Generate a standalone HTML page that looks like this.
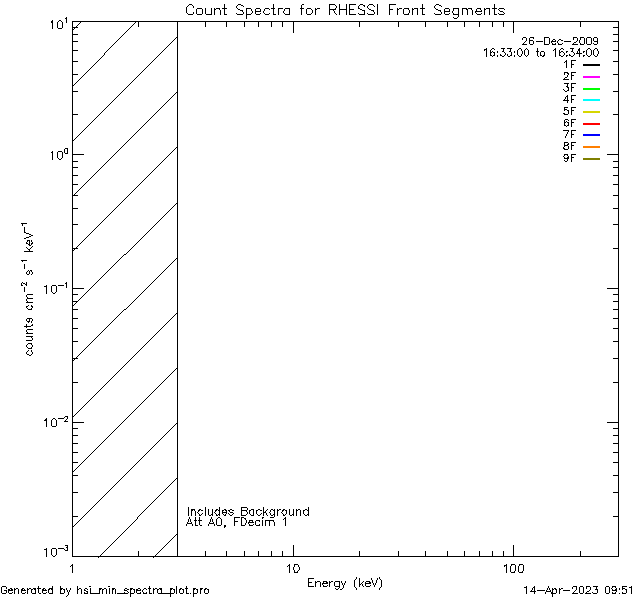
<!DOCTYPE html>
<html lang="en">
<head>
<meta charset="utf-8">
<title>Count Spectra for RHESSI Front Segments</title>
<style>
html,body{margin:0;padding:0;background:#fff;}
body{width:640px;height:600px;overflow:hidden;position:relative;font-family:"Liberation Sans",sans-serif;}
svg{display:block;position:absolute;left:0;top:0;font-family:"Liberation Sans",sans-serif;}
/* strokes are drawn as crisp 1px pixel runs (IDL Hershey vector font, no anti-aliasing);
   the <text> nodes only carry the strings and are not painted */
svg text{fill:none;stroke:none;}
</style>
</head>
<body>
<svg width="640" height="600" viewBox="0 0 640 600" shape-rendering="crispEdges" role="img" aria-label="Count Spectra for RHESSI Front Segments">
<rect width="640" height="600" fill="#fff"/>
<g id="hatch">
<path d="M81 21h1v1h-1zM136 21h1v1h-1zM80 22h1v1h-1zM135 22h1v1h-1zM79 23h1v1h-1zM134 23h1v1h-1zM78 24h1v1h-1zM133 24h1v1h-1zM77 25h1v1h-1zM132 25h1v1h-1zM76 26h1v1h-1zM131 26h1v1h-1zM75 27h1v1h-1zM130 27h1v1h-1zM74 28h1v1h-1zM129 28h1v1h-1zM73 29h1v1h-1zM128 29h1v1h-1zM72 30h1v1h-1zM127 30h1v1h-1zM126 31h1v1h-1zM125 32h1v1h-1zM124 33h1v1h-1zM123 34h1v1h-1zM122 35h1v1h-1zM121 36h1v1h-1zM177 36h1v1h-1zM120 37h1v1h-1zM176 37h1v1h-1zM119 38h1v1h-1zM175 38h1v1h-1zM118 39h1v1h-1zM174 39h1v1h-1zM117 40h1v1h-1zM173 40h1v1h-1zM116 41h1v1h-1zM172 41h1v1h-1zM115 42h1v1h-1zM171 42h1v1h-1zM114 43h1v1h-1zM170 43h1v1h-1zM113 44h1v1h-1zM169 44h1v1h-1zM112 45h1v1h-1zM168 45h1v1h-1zM111 46h1v1h-1zM167 46h1v1h-1zM110 47h1v1h-1zM166 47h1v1h-1zM109 48h1v1h-1zM165 48h1v1h-1zM108 49h1v1h-1zM164 49h1v1h-1zM107 50h1v1h-1zM163 50h1v1h-1zM106 51h1v1h-1zM162 51h1v1h-1zM105 52h1v1h-1zM161 52h1v1h-1zM104 53h1v1h-1zM160 53h1v1h-1zM104 54h1v1h-1zM159 54h1v1h-1zM103 55h1v1h-1zM158 55h1v1h-1zM102 56h1v1h-1zM157 56h1v1h-1zM101 57h1v1h-1zM156 57h1v1h-1zM100 58h1v1h-1zM155 58h1v1h-1zM99 59h1v1h-1zM154 59h1v1h-1zM98 60h1v1h-1zM153 60h1v1h-1zM97 61h1v1h-1zM152 61h1v1h-1zM96 62h1v1h-1zM151 62h1v1h-1zM95 63h1v1h-1zM150 63h1v1h-1zM94 64h1v1h-1zM149 64h1v1h-1zM93 65h1v1h-1zM148 65h1v1h-1zM92 66h1v1h-1zM147 66h1v1h-1zM91 67h1v1h-1zM146 67h1v1h-1zM90 68h1v1h-1zM145 68h1v1h-1zM89 69h1v1h-1zM144 69h1v1h-1zM88 70h1v1h-1zM143 70h1v1h-1zM87 71h1v1h-1zM142 71h1v1h-1zM86 72h1v1h-1zM141 72h1v1h-1zM85 73h1v1h-1zM140 73h1v1h-1zM84 74h1v1h-1zM139 74h1v1h-1zM83 75h1v1h-1zM138 75h1v1h-1zM82 76h1v1h-1zM137 76h1v1h-1zM81 77h1v1h-1zM136 77h1v1h-1zM80 78h1v1h-1zM135 78h1v1h-1zM79 79h1v1h-1zM134 79h1v1h-1zM78 80h1v1h-1zM133 80h1v1h-1zM77 81h1v1h-1zM132 81h1v1h-1zM76 82h1v1h-1zM131 82h1v1h-1zM75 83h1v1h-1zM130 83h1v1h-1zM74 84h1v1h-1zM129 84h1v1h-1zM73 85h1v1h-1zM128 85h1v1h-1zM72 86h1v1h-1zM127 86h1v1h-1zM126 87h1v1h-1zM125 88h1v1h-1zM124 89h1v1h-1zM123 90h1v1h-1zM122 91h1v1h-1zM177 91h1v1h-1zM121 92h1v1h-1zM176 92h1v1h-1zM120 93h1v1h-1zM175 93h1v1h-1zM119 94h1v1h-1zM174 94h1v1h-1zM118 95h1v1h-1zM173 95h1v1h-1zM117 96h1v1h-1zM172 96h1v1h-1zM116 97h1v1h-1zM171 97h1v1h-1zM115 98h1v1h-1zM170 98h1v1h-1zM114 99h1v1h-1zM169 99h1v1h-1zM113 100h1v1h-1zM168 100h1v1h-1zM112 101h1v1h-1zM167 101h1v1h-1zM111 102h1v1h-1zM166 102h1v1h-1zM110 103h1v1h-1zM165 103h1v1h-1zM109 104h1v1h-1zM164 104h1v1h-1zM108 105h1v1h-1zM163 105h1v1h-1zM107 106h1v1h-1zM162 106h1v1h-1zM106 107h1v1h-1zM161 107h1v1h-1zM105 108h1v1h-1zM160 108h1v1h-1zM104 109h1v1h-1zM159 109h1v1h-1zM103 110h1v1h-1zM158 110h1v1h-1zM102 111h1v1h-1zM157 111h1v1h-1zM101 112h1v1h-1zM156 112h1v1h-1zM100 113h1v1h-1zM155 113h1v1h-1zM99 114h1v1h-1zM154 114h1v1h-1zM98 115h1v1h-1zM153 115h1v1h-1zM97 116h1v1h-1zM152 116h1v1h-1zM96 117h1v1h-1zM151 117h1v1h-1zM95 118h1v1h-1zM150 118h1v1h-1zM94 119h1v1h-1zM149 119h1v1h-1zM93 120h1v1h-1zM148 120h1v1h-1zM92 121h1v1h-1zM147 121h1v1h-1zM91 122h1v1h-1zM146 122h1v1h-1zM90 123h1v1h-1zM145 123h1v1h-1zM89 124h1v1h-1zM144 124h1v1h-1zM88 125h1v1h-1zM143 125h1v1h-1zM87 126h1v1h-1zM142 126h1v1h-1zM86 127h1v1h-1zM141 127h1v1h-1zM85 128h1v1h-1zM140 128h1v1h-1zM84 129h1v1h-1zM139 129h1v1h-1zM83 130h1v1h-1zM138 130h1v1h-1zM82 131h1v1h-1zM137 131h1v1h-1zM81 132h1v1h-1zM136 132h1v1h-1zM80 133h1v1h-1zM135 133h1v1h-1zM79 134h1v1h-1zM134 134h1v1h-1zM78 135h1v1h-1zM133 135h1v1h-1zM77 136h1v1h-1zM132 136h1v1h-1zM76 137h1v1h-1zM131 137h1v1h-1zM75 138h1v1h-1zM130 138h1v1h-1zM74 139h1v1h-1zM129 139h1v1h-1zM73 140h1v1h-1zM128 140h1v1h-1zM72 141h1v1h-1zM127 141h1v1h-1zM126 142h1v1h-1zM125 143h1v1h-1zM124 144h1v1h-1zM123 145h1v1h-1zM122 146h1v1h-1zM177 146h1v1h-1zM121 147h1v1h-1zM176 147h1v1h-1zM120 148h1v1h-1zM175 148h1v1h-1zM119 149h1v1h-1zM174 149h1v1h-1zM118 150h1v1h-1zM173 150h1v1h-1zM117 151h1v1h-1zM172 151h1v1h-1zM116 152h1v1h-1zM171 152h1v1h-1zM115 153h1v1h-1zM170 153h1v1h-1zM114 154h1v1h-1zM169 154h1v1h-1zM113 155h1v1h-1zM168 155h1v1h-1zM112 156h1v1h-1zM167 156h1v1h-1zM111 157h1v1h-1zM166 157h1v1h-1zM110 158h1v1h-1zM165 158h1v1h-1zM109 159h1v1h-1zM164 159h1v1h-1zM108 160h1v1h-1zM163 160h1v1h-1zM107 161h1v1h-1zM162 161h1v1h-1zM106 162h1v1h-1zM161 162h1v1h-1zM105 163h1v1h-1zM160 163h1v1h-1zM104 164h1v1h-1zM159 164h1v1h-1zM103 165h1v1h-1zM158 165h1v1h-1zM102 166h1v1h-1zM157 166h1v1h-1zM101 167h1v1h-1zM156 167h1v1h-1zM100 168h1v1h-1zM155 168h1v1h-1zM99 169h1v1h-1zM154 169h1v1h-1zM98 170h1v1h-1zM153 170h1v1h-1zM97 171h1v1h-1zM152 171h1v1h-1zM96 172h1v1h-1zM151 172h1v1h-1zM95 173h1v1h-1zM150 173h1v1h-1zM94 174h1v1h-1zM149 174h1v1h-1zM93 175h1v1h-1zM148 175h1v1h-1zM92 176h1v1h-1zM147 176h1v1h-1zM91 177h1v1h-1zM146 177h1v1h-1zM90 178h1v1h-1zM145 178h1v1h-1zM89 179h1v1h-1zM144 179h1v1h-1zM88 180h1v1h-1zM143 180h1v1h-1zM87 181h1v1h-1zM142 181h1v1h-1zM86 182h1v1h-1zM141 182h1v1h-1zM85 183h1v1h-1zM140 183h1v1h-1zM84 184h1v1h-1zM139 184h1v1h-1zM83 185h1v1h-1zM138 185h1v1h-1zM82 186h1v1h-1zM137 186h1v1h-1zM81 187h1v1h-1zM136 187h1v1h-1zM80 188h1v1h-1zM135 188h1v1h-1zM79 189h1v1h-1zM134 189h1v1h-1zM78 190h1v1h-1zM133 190h1v1h-1zM77 191h1v1h-1zM132 191h1v1h-1zM76 192h1v1h-1zM131 192h1v1h-1zM75 193h1v1h-1zM130 193h1v1h-1zM74 194h1v1h-1zM129 194h1v1h-1zM73 195h1v1h-1zM128 195h1v1h-1zM72 196h1v1h-1zM127 196h1v1h-1zM126 197h1v1h-1zM125 198h1v1h-1zM124 199h1v1h-1zM123 200h1v1h-1zM122 201h1v1h-1zM121 202h1v1h-1zM177 202h1v1h-1zM120 203h1v1h-1zM176 203h1v1h-1zM119 204h1v1h-1zM175 204h1v1h-1zM118 205h1v1h-1zM174 205h1v1h-1zM117 206h1v1h-1zM173 206h1v1h-1zM116 207h1v1h-1zM172 207h1v1h-1zM115 208h1v1h-1zM171 208h1v1h-1zM114 209h1v1h-1zM170 209h1v1h-1zM113 210h1v1h-1zM169 210h1v1h-1zM112 211h1v1h-1zM168 211h1v1h-1zM111 212h1v1h-1zM167 212h1v1h-1zM110 213h1v1h-1zM166 213h1v1h-1zM109 214h1v1h-1zM165 214h1v1h-1zM108 215h1v1h-1zM164 215h1v1h-1zM107 216h1v1h-1zM163 216h1v1h-1zM106 217h1v1h-1zM162 217h1v1h-1zM105 218h1v1h-1zM161 218h1v1h-1zM104 219h1v1h-1zM160 219h1v1h-1zM103 220h1v1h-1zM159 220h1v1h-1zM102 221h1v1h-1zM158 221h1v1h-1zM101 222h1v1h-1zM157 222h1v1h-1zM100 223h1v1h-1zM156 223h1v1h-1zM99 224h1v1h-1zM155 224h1v1h-1zM98 225h1v1h-1zM154 225h1v1h-1zM97 226h1v1h-1zM153 226h1v1h-1zM96 227h1v1h-1zM152 227h1v1h-1zM95 228h1v1h-1zM151 228h1v1h-1zM94 229h1v1h-1zM150 229h1v1h-1zM93 230h1v1h-1zM149 230h1v1h-1zM92 231h1v1h-1zM148 231h1v1h-1zM91 232h1v1h-1zM147 232h1v1h-1zM90 233h1v1h-1zM146 233h1v1h-1zM89 234h1v1h-1zM145 234h1v1h-1zM88 235h1v1h-1zM144 235h1v1h-1zM87 236h1v1h-1zM143 236h1v1h-1zM86 237h1v1h-1zM142 237h1v1h-1zM85 238h1v1h-1zM141 238h1v1h-1zM84 239h1v1h-1zM140 239h1v1h-1zM83 240h1v1h-1zM139 240h1v1h-1zM82 241h1v1h-1zM138 241h1v1h-1zM81 242h1v1h-1zM137 242h1v1h-1zM80 243h1v1h-1zM136 243h1v1h-1zM79 244h1v1h-1zM135 244h1v1h-1zM78 245h1v1h-1zM134 245h1v1h-1zM77 246h1v1h-1zM133 246h1v1h-1zM76 247h1v1h-1zM132 247h1v1h-1zM75 248h1v1h-1zM131 248h1v1h-1zM74 249h1v1h-1zM130 249h1v1h-1zM73 250h1v1h-1zM129 250h1v1h-1zM72 251h1v1h-1zM128 251h1v1h-1zM127 252h1v1h-1zM126 253h1v1h-1zM124 254h2v1h-2zM123 255h1v1h-1zM122 256h1v1h-1zM121 257h1v1h-1zM177 257h1v1h-1zM120 258h1v1h-1zM176 258h1v1h-1zM119 259h1v1h-1zM175 259h1v1h-1zM118 260h1v1h-1zM174 260h1v1h-1zM117 261h1v1h-1zM173 261h1v1h-1zM116 262h1v1h-1zM172 262h1v1h-1zM115 263h1v1h-1zM171 263h1v1h-1zM114 264h1v1h-1zM170 264h1v1h-1zM113 265h1v1h-1zM169 265h1v1h-1zM112 266h1v1h-1zM168 266h1v1h-1zM111 267h1v1h-1zM167 267h1v1h-1zM110 268h1v1h-1zM166 268h1v1h-1zM109 269h1v1h-1zM165 269h1v1h-1zM108 270h1v1h-1zM164 270h1v1h-1zM107 271h1v1h-1zM163 271h1v1h-1zM106 272h1v1h-1zM162 272h1v1h-1zM105 273h1v1h-1zM161 273h1v1h-1zM104 274h1v1h-1zM160 274h1v1h-1zM103 275h1v1h-1zM159 275h1v1h-1zM102 276h1v1h-1zM158 276h1v1h-1zM101 277h1v1h-1zM157 277h1v1h-1zM100 278h1v1h-1zM156 278h1v1h-1zM99 279h1v1h-1zM155 279h1v1h-1zM98 280h1v1h-1zM154 280h1v1h-1zM97 281h1v1h-1zM153 281h1v1h-1zM96 282h1v1h-1zM152 282h1v1h-1zM95 283h1v1h-1zM151 283h1v1h-1zM94 284h1v1h-1zM150 284h1v1h-1zM93 285h1v1h-1zM149 285h1v1h-1zM92 286h1v1h-1zM148 286h1v1h-1zM91 287h1v1h-1zM147 287h1v1h-1zM90 288h1v1h-1zM146 288h1v1h-1zM89 289h1v1h-1zM145 289h1v1h-1zM88 290h1v1h-1zM144 290h1v1h-1zM87 291h1v1h-1zM143 291h1v1h-1zM86 292h1v1h-1zM142 292h1v1h-1zM85 293h1v1h-1zM141 293h1v1h-1zM84 294h1v1h-1zM140 294h1v1h-1zM83 295h1v1h-1zM139 295h1v1h-1zM82 296h1v1h-1zM138 296h1v1h-1zM81 297h1v1h-1zM137 297h1v1h-1zM80 298h1v1h-1zM136 298h1v1h-1zM79 299h1v1h-1zM135 299h1v1h-1zM78 300h1v1h-1zM134 300h1v1h-1zM77 301h1v1h-1zM133 301h1v1h-1zM76 302h1v1h-1zM132 302h1v1h-1zM75 303h1v1h-1zM131 303h1v1h-1zM74 304h1v1h-1zM130 304h1v1h-1zM73 305h1v1h-1zM129 305h1v1h-1zM72 306h1v1h-1zM128 306h1v1h-1zM127 307h1v1h-1zM126 308h1v1h-1zM124 309h2v1h-2zM123 310h1v1h-1zM122 311h1v1h-1zM121 312h1v1h-1zM177 312h1v1h-1zM120 313h1v1h-1zM176 313h1v1h-1zM119 314h1v1h-1zM175 314h1v1h-1zM118 315h1v1h-1zM174 315h1v1h-1zM117 316h1v1h-1zM173 316h1v1h-1zM116 317h1v1h-1zM172 317h1v1h-1zM115 318h1v1h-1zM171 318h1v1h-1zM114 319h1v1h-1zM170 319h1v1h-1zM113 320h1v1h-1zM169 320h1v1h-1zM112 321h1v1h-1zM168 321h1v1h-1zM111 322h1v1h-1zM167 322h1v1h-1zM110 323h1v1h-1zM166 323h1v1h-1zM109 324h1v1h-1zM165 324h1v1h-1zM108 325h1v1h-1zM164 325h1v1h-1zM107 326h1v1h-1zM163 326h1v1h-1zM106 327h1v1h-1zM162 327h1v1h-1zM105 328h1v1h-1zM161 328h1v1h-1zM104 329h1v1h-1zM160 329h1v1h-1zM103 330h1v1h-1zM159 330h1v1h-1zM102 331h1v1h-1zM158 331h1v1h-1zM101 332h1v1h-1zM157 332h1v1h-1zM100 333h1v1h-1zM156 333h1v1h-1zM99 334h1v1h-1zM155 334h1v1h-1zM98 335h1v1h-1zM154 335h1v1h-1zM97 336h1v1h-1zM153 336h1v1h-1zM96 337h1v1h-1zM152 337h1v1h-1zM95 338h1v1h-1zM151 338h1v1h-1zM94 339h1v1h-1zM150 339h1v1h-1zM93 340h1v1h-1zM149 340h1v1h-1zM92 341h1v1h-1zM148 341h1v1h-1zM91 342h1v1h-1zM147 342h1v1h-1zM90 343h1v1h-1zM146 343h1v1h-1zM89 344h1v1h-1zM145 344h1v1h-1zM88 345h1v1h-1zM144 345h1v1h-1zM87 346h1v1h-1zM143 346h1v1h-1zM86 347h1v1h-1zM142 347h1v1h-1zM85 348h1v1h-1zM141 348h1v1h-1zM84 349h1v1h-1zM140 349h1v1h-1zM83 350h1v1h-1zM139 350h1v1h-1zM82 351h1v1h-1zM138 351h1v1h-1zM81 352h1v1h-1zM137 352h1v1h-1zM80 353h1v1h-1zM136 353h1v1h-1zM79 354h1v1h-1zM135 354h1v1h-1zM78 355h1v1h-1zM134 355h1v1h-1zM77 356h1v1h-1zM133 356h1v1h-1zM76 357h1v1h-1zM132 357h1v1h-1zM75 358h1v1h-1zM131 358h1v1h-1zM74 359h1v1h-1zM130 359h1v1h-1zM73 360h1v1h-1zM129 360h1v1h-1zM72 361h1v1h-1zM128 361h1v1h-1zM127 362h1v1h-1zM126 363h1v1h-1zM125 364h1v1h-1zM124 365h1v1h-1zM123 366h1v1h-1zM122 367h1v1h-1zM177 367h1v1h-1zM121 368h1v1h-1zM176 368h1v1h-1zM120 369h1v1h-1zM175 369h1v1h-1zM119 370h1v1h-1zM174 370h1v1h-1zM118 371h1v1h-1zM173 371h1v1h-1zM117 372h1v1h-1zM172 372h1v1h-1zM116 373h1v1h-1zM171 373h1v1h-1zM115 374h1v1h-1zM170 374h1v1h-1zM114 375h1v1h-1zM169 375h1v1h-1zM113 376h1v1h-1zM168 376h1v1h-1zM112 377h1v1h-1zM167 377h1v1h-1zM111 378h1v1h-1zM166 378h1v1h-1zM110 379h1v1h-1zM165 379h1v1h-1zM109 380h1v1h-1zM164 380h1v1h-1zM108 381h1v1h-1zM163 381h1v1h-1zM107 382h1v1h-1zM162 382h1v1h-1zM106 383h1v1h-1zM161 383h1v1h-1zM105 384h1v1h-1zM160 384h1v1h-1zM104 385h1v1h-1zM159 385h1v1h-1zM103 386h1v1h-1zM158 386h1v1h-1zM102 387h1v1h-1zM157 387h1v1h-1zM101 388h1v1h-1zM156 388h1v1h-1zM100 389h1v1h-1zM155 389h1v1h-1zM99 390h1v1h-1zM154 390h1v1h-1zM98 391h1v1h-1zM153 391h1v1h-1zM97 392h1v1h-1zM152 392h1v1h-1zM96 393h1v1h-1zM151 393h1v1h-1zM95 394h1v1h-1zM150 394h1v1h-1zM94 395h1v1h-1zM149 395h1v1h-1zM93 396h1v1h-1zM148 396h1v1h-1zM92 397h1v1h-1zM147 397h1v1h-1zM91 398h1v1h-1zM146 398h1v1h-1zM90 399h1v1h-1zM145 399h1v1h-1zM89 400h1v1h-1zM144 400h1v1h-1zM88 401h1v1h-1zM143 401h1v1h-1zM87 402h1v1h-1zM142 402h1v1h-1zM86 403h1v1h-1zM141 403h1v1h-1zM85 404h1v1h-1zM140 404h1v1h-1zM84 405h1v1h-1zM139 405h1v1h-1zM83 406h1v1h-1zM138 406h1v1h-1zM82 407h1v1h-1zM137 407h1v1h-1zM81 408h1v1h-1zM136 408h1v1h-1zM80 409h1v1h-1zM135 409h1v1h-1zM79 410h1v1h-1zM134 410h1v1h-1zM78 411h1v1h-1zM133 411h1v1h-1zM77 412h1v1h-1zM132 412h1v1h-1zM76 413h1v1h-1zM131 413h1v1h-1zM75 414h1v1h-1zM130 414h1v1h-1zM74 415h1v1h-1zM129 415h1v1h-1zM73 416h1v1h-1zM128 416h1v1h-1zM72 417h1v1h-1zM127 417h1v1h-1zM126 418h1v1h-1zM125 419h1v1h-1zM124 420h1v1h-1zM123 421h1v1h-1zM122 422h1v1h-1zM177 422h1v1h-1zM121 423h1v1h-1zM176 423h1v1h-1zM120 424h1v1h-1zM175 424h1v1h-1zM119 425h1v1h-1zM174 425h1v1h-1zM118 426h1v1h-1zM173 426h1v1h-1zM117 427h1v1h-1zM172 427h1v1h-1zM116 428h1v1h-1zM171 428h1v1h-1zM115 429h1v1h-1zM170 429h1v1h-1zM114 430h1v1h-1zM169 430h1v1h-1zM113 431h1v1h-1zM168 431h1v1h-1zM112 432h1v1h-1zM167 432h1v1h-1zM111 433h1v1h-1zM166 433h1v1h-1zM110 434h1v1h-1zM165 434h1v1h-1zM109 435h1v1h-1zM164 435h1v1h-1zM108 436h1v1h-1zM163 436h1v1h-1zM107 437h1v1h-1zM162 437h1v1h-1zM106 438h1v1h-1zM161 438h1v1h-1zM105 439h1v1h-1zM160 439h1v1h-1zM104 440h1v1h-1zM159 440h1v1h-1zM103 441h1v1h-1zM158 441h1v1h-1zM102 442h1v1h-1zM157 442h1v1h-1zM101 443h1v1h-1zM156 443h1v1h-1zM100 444h1v1h-1zM155 444h1v1h-1zM99 445h1v1h-1zM154 445h1v1h-1zM98 446h1v1h-1zM153 446h1v1h-1zM97 447h1v1h-1zM152 447h1v1h-1zM96 448h1v1h-1zM151 448h1v1h-1zM95 449h1v1h-1zM150 449h1v1h-1zM94 450h1v1h-1zM149 450h1v1h-1zM93 451h1v1h-1zM148 451h1v1h-1zM92 452h1v1h-1zM147 452h1v1h-1zM91 453h1v1h-1zM146 453h1v1h-1zM90 454h1v1h-1zM145 454h1v1h-1zM89 455h1v1h-1zM144 455h1v1h-1zM88 456h1v1h-1zM143 456h1v1h-1zM87 457h1v1h-1zM142 457h1v1h-1zM86 458h1v1h-1zM141 458h1v1h-1zM85 459h1v1h-1zM140 459h1v1h-1zM84 460h1v1h-1zM139 460h1v1h-1zM83 461h1v1h-1zM138 461h1v1h-1zM82 462h1v1h-1zM137 462h1v1h-1zM81 463h1v1h-1zM136 463h1v1h-1zM80 464h1v1h-1zM135 464h1v1h-1zM79 465h1v1h-1zM134 465h1v1h-1zM78 466h1v1h-1zM133 466h1v1h-1zM77 467h1v1h-1zM132 467h1v1h-1zM76 468h1v1h-1zM131 468h1v1h-1zM75 469h1v1h-1zM130 469h1v1h-1zM74 470h1v1h-1zM129 470h1v1h-1zM73 471h1v1h-1zM128 471h1v1h-1zM72 472h1v1h-1zM127 472h1v1h-1zM126 473h1v1h-1zM125 474h1v1h-1zM124 475h1v1h-1zM123 476h1v1h-1zM122 477h1v1h-1zM177 477h1v1h-1zM121 478h1v1h-1zM176 478h1v1h-1zM120 479h1v1h-1zM175 479h1v1h-1zM119 480h1v1h-1zM174 480h1v1h-1zM118 481h1v1h-1zM173 481h1v1h-1zM117 482h1v1h-1zM172 482h1v1h-1zM116 483h1v1h-1zM171 483h1v1h-1zM115 484h1v1h-1zM170 484h1v1h-1zM114 485h1v1h-1zM169 485h1v1h-1zM113 486h1v1h-1zM168 486h1v1h-1zM112 487h1v1h-1zM167 487h1v1h-1zM111 488h1v1h-1zM166 488h1v1h-1zM110 489h1v1h-1zM165 489h1v1h-1zM109 490h1v1h-1zM164 490h1v1h-1zM108 491h1v1h-1zM163 491h1v1h-1zM107 492h1v1h-1zM162 492h1v1h-1zM106 493h1v1h-1zM161 493h1v1h-1zM105 494h1v1h-1zM160 494h1v1h-1zM104 495h1v1h-1zM159 495h1v1h-1zM103 496h1v1h-1zM158 496h1v1h-1zM102 497h1v1h-1zM157 497h1v1h-1zM101 498h1v1h-1zM156 498h1v1h-1zM100 499h1v1h-1zM155 499h1v1h-1zM99 500h1v1h-1zM154 500h1v1h-1zM98 501h1v1h-1zM153 501h1v1h-1zM97 502h1v1h-1zM152 502h1v1h-1zM96 503h1v1h-1zM151 503h1v1h-1zM95 504h1v1h-1zM150 504h1v1h-1zM94 505h1v1h-1zM149 505h1v1h-1zM93 506h1v1h-1zM148 506h1v1h-1zM92 507h1v1h-1zM147 507h1v1h-1zM91 508h1v1h-1zM146 508h1v1h-1zM90 509h1v1h-1zM145 509h1v1h-1zM89 510h1v1h-1zM144 510h1v1h-1zM88 511h1v1h-1zM143 511h1v1h-1zM87 512h1v1h-1zM142 512h1v1h-1zM86 513h1v1h-1zM141 513h1v1h-1zM85 514h1v1h-1zM140 514h1v1h-1zM84 515h1v1h-1zM139 515h1v1h-1zM83 516h1v1h-1zM138 516h1v1h-1zM82 517h1v1h-1zM137 517h1v1h-1zM81 518h1v1h-1zM137 518h1v1h-1zM80 519h1v1h-1zM136 519h1v1h-1zM79 520h1v1h-1zM135 520h1v1h-1zM78 521h1v1h-1zM134 521h1v1h-1zM77 522h1v1h-1zM133 522h1v1h-1zM76 523h1v1h-1zM132 523h1v1h-1zM75 524h1v1h-1zM131 524h1v1h-1zM74 525h1v1h-1zM130 525h1v1h-1zM73 526h1v1h-1zM129 526h1v1h-1zM72 527h1v1h-1zM128 527h1v1h-1zM127 528h1v1h-1zM126 529h1v1h-1zM125 530h1v1h-1zM124 531h1v1h-1zM123 532h1v1h-1zM122 533h1v1h-1zM177 533h1v1h-1zM121 534h1v1h-1zM176 534h1v1h-1zM120 535h1v1h-1zM175 535h1v1h-1zM119 536h1v1h-1zM174 536h1v1h-1zM118 537h1v1h-1zM173 537h1v1h-1zM117 538h1v1h-1zM172 538h1v1h-1zM116 539h1v1h-1zM171 539h1v1h-1zM115 540h1v1h-1zM170 540h1v1h-1zM114 541h1v1h-1zM169 541h1v1h-1zM113 542h1v1h-1zM168 542h1v1h-1zM112 543h1v1h-1zM167 543h1v1h-1zM111 544h1v1h-1zM166 544h1v1h-1zM110 545h1v1h-1zM165 545h1v1h-1zM109 546h1v1h-1zM164 546h1v1h-1zM108 547h1v1h-1zM163 547h1v1h-1zM107 548h1v1h-1zM162 548h1v1h-1zM106 549h1v1h-1zM161 549h1v1h-1zM105 550h1v1h-1zM160 550h1v1h-1zM104 551h1v1h-1zM159 551h1v1h-1zM103 552h1v1h-1zM158 552h1v1h-1zM102 553h1v1h-1zM157 553h1v1h-1zM101 554h1v1h-1zM156 554h1v1h-1zM100 555h1v1h-1zM155 555h1v1h-1zM99 556h1v1h-1zM154 556h1v1h-1zM98 557h1v1h-1zM153 557h1v1h-1z"/>
</g>
<g id="frame">
<path d="M72 21h547v1h-547zM72 22h1v1h-1zM618 22h1v1h-1zM72 23h1v1h-1zM618 23h1v1h-1zM72 24h1v1h-1zM618 24h1v1h-1zM72 25h1v1h-1zM618 25h1v1h-1zM72 26h1v1h-1zM618 26h1v1h-1zM72 27h1v1h-1zM618 27h1v1h-1zM72 28h1v1h-1zM618 28h1v1h-1zM72 29h1v1h-1zM618 29h1v1h-1zM72 30h1v1h-1zM618 30h1v1h-1zM72 31h1v1h-1zM618 31h1v1h-1zM72 32h1v1h-1zM618 32h1v1h-1zM72 33h1v1h-1zM618 33h1v1h-1zM72 34h1v1h-1zM618 34h1v1h-1zM72 35h1v1h-1zM618 35h1v1h-1zM72 36h1v1h-1zM618 36h1v1h-1zM72 37h1v1h-1zM618 37h1v1h-1zM72 38h1v1h-1zM618 38h1v1h-1zM72 39h1v1h-1zM618 39h1v1h-1zM72 40h1v1h-1zM618 40h1v1h-1zM72 41h1v1h-1zM618 41h1v1h-1zM72 42h1v1h-1zM618 42h1v1h-1zM72 43h1v1h-1zM618 43h1v1h-1zM72 44h1v1h-1zM618 44h1v1h-1zM72 45h1v1h-1zM618 45h1v1h-1zM72 46h1v1h-1zM618 46h1v1h-1zM72 47h1v1h-1zM618 47h1v1h-1zM72 48h1v1h-1zM618 48h1v1h-1zM72 49h1v1h-1zM618 49h1v1h-1zM72 50h1v1h-1zM618 50h1v1h-1zM72 51h1v1h-1zM618 51h1v1h-1zM72 52h1v1h-1zM618 52h1v1h-1zM72 53h1v1h-1zM618 53h1v1h-1zM72 54h1v1h-1zM618 54h1v1h-1zM72 55h1v1h-1zM618 55h1v1h-1zM72 56h1v1h-1zM618 56h1v1h-1zM72 57h1v1h-1zM618 57h1v1h-1zM72 58h1v1h-1zM618 58h1v1h-1zM72 59h1v1h-1zM618 59h1v1h-1zM72 60h1v1h-1zM618 60h1v1h-1zM72 61h1v1h-1zM618 61h1v1h-1zM72 62h1v1h-1zM618 62h1v1h-1zM72 63h1v1h-1zM618 63h1v1h-1zM72 64h1v1h-1zM618 64h1v1h-1zM72 65h1v1h-1zM618 65h1v1h-1zM72 66h1v1h-1zM618 66h1v1h-1zM72 67h1v1h-1zM618 67h1v1h-1zM72 68h1v1h-1zM618 68h1v1h-1zM72 69h1v1h-1zM618 69h1v1h-1zM72 70h1v1h-1zM618 70h1v1h-1zM72 71h1v1h-1zM618 71h1v1h-1zM72 72h1v1h-1zM618 72h1v1h-1zM72 73h1v1h-1zM618 73h1v1h-1zM72 74h1v1h-1zM618 74h1v1h-1zM72 75h1v1h-1zM618 75h1v1h-1zM72 76h1v1h-1zM618 76h1v1h-1zM72 77h1v1h-1zM618 77h1v1h-1zM72 78h1v1h-1zM618 78h1v1h-1zM72 79h1v1h-1zM618 79h1v1h-1zM72 80h1v1h-1zM618 80h1v1h-1zM72 81h1v1h-1zM618 81h1v1h-1zM72 82h1v1h-1zM618 82h1v1h-1zM72 83h1v1h-1zM618 83h1v1h-1zM72 84h1v1h-1zM618 84h1v1h-1zM72 85h1v1h-1zM618 85h1v1h-1zM72 86h1v1h-1zM618 86h1v1h-1zM72 87h1v1h-1zM618 87h1v1h-1zM72 88h1v1h-1zM618 88h1v1h-1zM72 89h1v1h-1zM618 89h1v1h-1zM72 90h1v1h-1zM618 90h1v1h-1zM72 91h1v1h-1zM618 91h1v1h-1zM72 92h1v1h-1zM618 92h1v1h-1zM72 93h1v1h-1zM618 93h1v1h-1zM72 94h1v1h-1zM618 94h1v1h-1zM72 95h1v1h-1zM618 95h1v1h-1zM72 96h1v1h-1zM618 96h1v1h-1zM72 97h1v1h-1zM618 97h1v1h-1zM72 98h1v1h-1zM618 98h1v1h-1zM72 99h1v1h-1zM618 99h1v1h-1zM72 100h1v1h-1zM618 100h1v1h-1zM72 101h1v1h-1zM618 101h1v1h-1zM72 102h1v1h-1zM618 102h1v1h-1zM72 103h1v1h-1zM618 103h1v1h-1zM72 104h1v1h-1zM618 104h1v1h-1zM72 105h1v1h-1zM618 105h1v1h-1zM72 106h1v1h-1zM618 106h1v1h-1zM72 107h1v1h-1zM618 107h1v1h-1zM72 108h1v1h-1zM618 108h1v1h-1zM72 109h1v1h-1zM618 109h1v1h-1zM72 110h1v1h-1zM618 110h1v1h-1zM72 111h1v1h-1zM618 111h1v1h-1zM72 112h1v1h-1zM618 112h1v1h-1zM72 113h1v1h-1zM618 113h1v1h-1zM72 114h1v1h-1zM618 114h1v1h-1zM72 115h1v1h-1zM618 115h1v1h-1zM72 116h1v1h-1zM618 116h1v1h-1zM72 117h1v1h-1zM618 117h1v1h-1zM72 118h1v1h-1zM618 118h1v1h-1zM72 119h1v1h-1zM618 119h1v1h-1zM72 120h1v1h-1zM618 120h1v1h-1zM72 121h1v1h-1zM618 121h1v1h-1zM72 122h1v1h-1zM618 122h1v1h-1zM72 123h1v1h-1zM618 123h1v1h-1zM72 124h1v1h-1zM618 124h1v1h-1zM72 125h1v1h-1zM618 125h1v1h-1zM72 126h1v1h-1zM618 126h1v1h-1zM72 127h1v1h-1zM618 127h1v1h-1zM72 128h1v1h-1zM618 128h1v1h-1zM72 129h1v1h-1zM618 129h1v1h-1zM72 130h1v1h-1zM618 130h1v1h-1zM72 131h1v1h-1zM618 131h1v1h-1zM72 132h1v1h-1zM618 132h1v1h-1zM72 133h1v1h-1zM618 133h1v1h-1zM72 134h1v1h-1zM618 134h1v1h-1zM72 135h1v1h-1zM618 135h1v1h-1zM72 136h1v1h-1zM618 136h1v1h-1zM72 137h1v1h-1zM618 137h1v1h-1zM72 138h1v1h-1zM618 138h1v1h-1zM72 139h1v1h-1zM618 139h1v1h-1zM72 140h1v1h-1zM618 140h1v1h-1zM72 141h1v1h-1zM618 141h1v1h-1zM72 142h1v1h-1zM618 142h1v1h-1zM72 143h1v1h-1zM618 143h1v1h-1zM72 144h1v1h-1zM618 144h1v1h-1zM72 145h1v1h-1zM618 145h1v1h-1zM72 146h1v1h-1zM618 146h1v1h-1zM72 147h1v1h-1zM618 147h1v1h-1zM72 148h1v1h-1zM618 148h1v1h-1zM72 149h1v1h-1zM618 149h1v1h-1zM72 150h1v1h-1zM618 150h1v1h-1zM72 151h1v1h-1zM618 151h1v1h-1zM72 152h1v1h-1zM618 152h1v1h-1zM72 153h1v1h-1zM618 153h1v1h-1zM72 154h1v1h-1zM618 154h1v1h-1zM72 155h1v1h-1zM618 155h1v1h-1zM72 156h1v1h-1zM618 156h1v1h-1zM72 157h1v1h-1zM618 157h1v1h-1zM72 158h1v1h-1zM618 158h1v1h-1zM72 159h1v1h-1zM618 159h1v1h-1zM72 160h1v1h-1zM618 160h1v1h-1zM72 161h1v1h-1zM618 161h1v1h-1zM72 162h1v1h-1zM618 162h1v1h-1zM72 163h1v1h-1zM618 163h1v1h-1zM72 164h1v1h-1zM618 164h1v1h-1zM72 165h1v1h-1zM618 165h1v1h-1zM72 166h1v1h-1zM618 166h1v1h-1zM72 167h1v1h-1zM618 167h1v1h-1zM72 168h1v1h-1zM618 168h1v1h-1zM72 169h1v1h-1zM618 169h1v1h-1zM72 170h1v1h-1zM618 170h1v1h-1zM72 171h1v1h-1zM618 171h1v1h-1zM72 172h1v1h-1zM618 172h1v1h-1zM72 173h1v1h-1zM618 173h1v1h-1zM72 174h1v1h-1zM618 174h1v1h-1zM72 175h1v1h-1zM618 175h1v1h-1zM72 176h1v1h-1zM618 176h1v1h-1zM72 177h1v1h-1zM618 177h1v1h-1zM72 178h1v1h-1zM618 178h1v1h-1zM72 179h1v1h-1zM618 179h1v1h-1zM72 180h1v1h-1zM618 180h1v1h-1zM72 181h1v1h-1zM618 181h1v1h-1zM72 182h1v1h-1zM618 182h1v1h-1zM72 183h1v1h-1zM618 183h1v1h-1zM72 184h1v1h-1zM618 184h1v1h-1zM72 185h1v1h-1zM618 185h1v1h-1zM72 186h1v1h-1zM618 186h1v1h-1zM72 187h1v1h-1zM618 187h1v1h-1zM72 188h1v1h-1zM618 188h1v1h-1zM72 189h1v1h-1zM618 189h1v1h-1zM72 190h1v1h-1zM618 190h1v1h-1zM72 191h1v1h-1zM618 191h1v1h-1zM72 192h1v1h-1zM618 192h1v1h-1zM72 193h1v1h-1zM618 193h1v1h-1zM72 194h1v1h-1zM618 194h1v1h-1zM72 195h1v1h-1zM618 195h1v1h-1zM72 196h1v1h-1zM618 196h1v1h-1zM72 197h1v1h-1zM618 197h1v1h-1zM72 198h1v1h-1zM618 198h1v1h-1zM72 199h1v1h-1zM618 199h1v1h-1zM72 200h1v1h-1zM618 200h1v1h-1zM72 201h1v1h-1zM618 201h1v1h-1zM72 202h1v1h-1zM618 202h1v1h-1zM72 203h1v1h-1zM618 203h1v1h-1zM72 204h1v1h-1zM618 204h1v1h-1zM72 205h1v1h-1zM618 205h1v1h-1zM72 206h1v1h-1zM618 206h1v1h-1zM72 207h1v1h-1zM618 207h1v1h-1zM72 208h1v1h-1zM618 208h1v1h-1zM72 209h1v1h-1zM618 209h1v1h-1zM72 210h1v1h-1zM618 210h1v1h-1zM72 211h1v1h-1zM618 211h1v1h-1zM72 212h1v1h-1zM618 212h1v1h-1zM72 213h1v1h-1zM618 213h1v1h-1zM72 214h1v1h-1zM618 214h1v1h-1zM72 215h1v1h-1zM618 215h1v1h-1zM72 216h1v1h-1zM618 216h1v1h-1zM72 217h1v1h-1zM618 217h1v1h-1zM72 218h1v1h-1zM618 218h1v1h-1zM72 219h1v1h-1zM618 219h1v1h-1zM72 220h1v1h-1zM618 220h1v1h-1zM72 221h1v1h-1zM618 221h1v1h-1zM72 222h1v1h-1zM618 222h1v1h-1zM72 223h1v1h-1zM618 223h1v1h-1zM72 224h1v1h-1zM618 224h1v1h-1zM72 225h1v1h-1zM618 225h1v1h-1zM72 226h1v1h-1zM618 226h1v1h-1zM72 227h1v1h-1zM618 227h1v1h-1zM72 228h1v1h-1zM618 228h1v1h-1zM72 229h1v1h-1zM618 229h1v1h-1zM72 230h1v1h-1zM618 230h1v1h-1zM72 231h1v1h-1zM618 231h1v1h-1zM72 232h1v1h-1zM618 232h1v1h-1zM72 233h1v1h-1zM618 233h1v1h-1zM72 234h1v1h-1zM618 234h1v1h-1zM72 235h1v1h-1zM618 235h1v1h-1zM72 236h1v1h-1zM618 236h1v1h-1zM72 237h1v1h-1zM618 237h1v1h-1zM72 238h1v1h-1zM618 238h1v1h-1zM72 239h1v1h-1zM618 239h1v1h-1zM72 240h1v1h-1zM618 240h1v1h-1zM72 241h1v1h-1zM618 241h1v1h-1zM72 242h1v1h-1zM618 242h1v1h-1zM72 243h1v1h-1zM618 243h1v1h-1zM72 244h1v1h-1zM618 244h1v1h-1zM72 245h1v1h-1zM618 245h1v1h-1zM72 246h1v1h-1zM618 246h1v1h-1zM72 247h1v1h-1zM618 247h1v1h-1zM72 248h1v1h-1zM618 248h1v1h-1zM72 249h1v1h-1zM618 249h1v1h-1zM72 250h1v1h-1zM618 250h1v1h-1zM72 251h1v1h-1zM618 251h1v1h-1zM72 252h1v1h-1zM618 252h1v1h-1zM72 253h1v1h-1zM618 253h1v1h-1zM72 254h1v1h-1zM618 254h1v1h-1zM72 255h1v1h-1zM618 255h1v1h-1zM72 256h1v1h-1zM618 256h1v1h-1zM72 257h1v1h-1zM618 257h1v1h-1zM72 258h1v1h-1zM618 258h1v1h-1zM72 259h1v1h-1zM618 259h1v1h-1zM72 260h1v1h-1zM618 260h1v1h-1zM72 261h1v1h-1zM618 261h1v1h-1zM72 262h1v1h-1zM618 262h1v1h-1zM72 263h1v1h-1zM618 263h1v1h-1zM72 264h1v1h-1zM618 264h1v1h-1zM72 265h1v1h-1zM618 265h1v1h-1zM72 266h1v1h-1zM618 266h1v1h-1zM72 267h1v1h-1zM618 267h1v1h-1zM72 268h1v1h-1zM618 268h1v1h-1zM72 269h1v1h-1zM618 269h1v1h-1zM72 270h1v1h-1zM618 270h1v1h-1zM72 271h1v1h-1zM618 271h1v1h-1zM72 272h1v1h-1zM618 272h1v1h-1zM72 273h1v1h-1zM618 273h1v1h-1zM72 274h1v1h-1zM618 274h1v1h-1zM72 275h1v1h-1zM618 275h1v1h-1zM72 276h1v1h-1zM618 276h1v1h-1zM72 277h1v1h-1zM618 277h1v1h-1zM72 278h1v1h-1zM618 278h1v1h-1zM72 279h1v1h-1zM618 279h1v1h-1zM72 280h1v1h-1zM618 280h1v1h-1zM72 281h1v1h-1zM618 281h1v1h-1zM72 282h1v1h-1zM618 282h1v1h-1zM72 283h1v1h-1zM618 283h1v1h-1zM72 284h1v1h-1zM618 284h1v1h-1zM72 285h1v1h-1zM618 285h1v1h-1zM72 286h1v1h-1zM618 286h1v1h-1zM72 287h1v1h-1zM618 287h1v1h-1zM72 288h1v1h-1zM618 288h1v1h-1zM72 289h1v1h-1zM618 289h1v1h-1zM72 290h1v1h-1zM618 290h1v1h-1zM72 291h1v1h-1zM618 291h1v1h-1zM72 292h1v1h-1zM618 292h1v1h-1zM72 293h1v1h-1zM618 293h1v1h-1zM72 294h1v1h-1zM618 294h1v1h-1zM72 295h1v1h-1zM618 295h1v1h-1zM72 296h1v1h-1zM618 296h1v1h-1zM72 297h1v1h-1zM618 297h1v1h-1zM72 298h1v1h-1zM618 298h1v1h-1zM72 299h1v1h-1zM618 299h1v1h-1zM72 300h1v1h-1zM618 300h1v1h-1zM72 301h1v1h-1zM618 301h1v1h-1zM72 302h1v1h-1zM618 302h1v1h-1zM72 303h1v1h-1zM618 303h1v1h-1zM72 304h1v1h-1zM618 304h1v1h-1zM72 305h1v1h-1zM618 305h1v1h-1zM72 306h1v1h-1zM618 306h1v1h-1zM72 307h1v1h-1zM618 307h1v1h-1zM72 308h1v1h-1zM618 308h1v1h-1zM72 309h1v1h-1zM618 309h1v1h-1zM72 310h1v1h-1zM618 310h1v1h-1zM72 311h1v1h-1zM618 311h1v1h-1zM72 312h1v1h-1zM618 312h1v1h-1zM72 313h1v1h-1zM618 313h1v1h-1zM72 314h1v1h-1zM618 314h1v1h-1zM72 315h1v1h-1zM618 315h1v1h-1zM72 316h1v1h-1zM618 316h1v1h-1zM72 317h1v1h-1zM618 317h1v1h-1zM72 318h1v1h-1zM618 318h1v1h-1zM72 319h1v1h-1zM618 319h1v1h-1zM72 320h1v1h-1zM618 320h1v1h-1zM72 321h1v1h-1zM618 321h1v1h-1zM72 322h1v1h-1zM618 322h1v1h-1zM72 323h1v1h-1zM618 323h1v1h-1zM72 324h1v1h-1zM618 324h1v1h-1zM72 325h1v1h-1zM618 325h1v1h-1zM72 326h1v1h-1zM618 326h1v1h-1zM72 327h1v1h-1zM618 327h1v1h-1zM72 328h1v1h-1zM618 328h1v1h-1zM72 329h1v1h-1zM618 329h1v1h-1zM72 330h1v1h-1zM618 330h1v1h-1zM72 331h1v1h-1zM618 331h1v1h-1zM72 332h1v1h-1zM618 332h1v1h-1zM72 333h1v1h-1zM618 333h1v1h-1zM72 334h1v1h-1zM618 334h1v1h-1zM72 335h1v1h-1zM618 335h1v1h-1zM72 336h1v1h-1zM618 336h1v1h-1zM72 337h1v1h-1zM618 337h1v1h-1zM72 338h1v1h-1zM618 338h1v1h-1zM72 339h1v1h-1zM618 339h1v1h-1zM72 340h1v1h-1zM618 340h1v1h-1zM72 341h1v1h-1zM618 341h1v1h-1zM72 342h1v1h-1zM618 342h1v1h-1zM72 343h1v1h-1zM618 343h1v1h-1zM72 344h1v1h-1zM618 344h1v1h-1zM72 345h1v1h-1zM618 345h1v1h-1zM72 346h1v1h-1zM618 346h1v1h-1zM72 347h1v1h-1zM618 347h1v1h-1zM72 348h1v1h-1zM618 348h1v1h-1zM72 349h1v1h-1zM618 349h1v1h-1zM72 350h1v1h-1zM618 350h1v1h-1zM72 351h1v1h-1zM618 351h1v1h-1zM72 352h1v1h-1zM618 352h1v1h-1zM72 353h1v1h-1zM618 353h1v1h-1zM72 354h1v1h-1zM618 354h1v1h-1zM72 355h1v1h-1zM618 355h1v1h-1zM72 356h1v1h-1zM618 356h1v1h-1zM72 357h1v1h-1zM618 357h1v1h-1zM72 358h1v1h-1zM618 358h1v1h-1zM72 359h1v1h-1zM618 359h1v1h-1zM72 360h1v1h-1zM618 360h1v1h-1zM72 361h1v1h-1zM618 361h1v1h-1zM72 362h1v1h-1zM618 362h1v1h-1zM72 363h1v1h-1zM618 363h1v1h-1zM72 364h1v1h-1zM618 364h1v1h-1zM72 365h1v1h-1zM618 365h1v1h-1zM72 366h1v1h-1zM618 366h1v1h-1zM72 367h1v1h-1zM618 367h1v1h-1zM72 368h1v1h-1zM618 368h1v1h-1zM72 369h1v1h-1zM618 369h1v1h-1zM72 370h1v1h-1zM618 370h1v1h-1zM72 371h1v1h-1zM618 371h1v1h-1zM72 372h1v1h-1zM618 372h1v1h-1zM72 373h1v1h-1zM618 373h1v1h-1zM72 374h1v1h-1zM618 374h1v1h-1zM72 375h1v1h-1zM618 375h1v1h-1zM72 376h1v1h-1zM618 376h1v1h-1zM72 377h1v1h-1zM618 377h1v1h-1zM72 378h1v1h-1zM618 378h1v1h-1zM72 379h1v1h-1zM618 379h1v1h-1zM72 380h1v1h-1zM618 380h1v1h-1zM72 381h1v1h-1zM618 381h1v1h-1zM72 382h1v1h-1zM618 382h1v1h-1zM72 383h1v1h-1zM618 383h1v1h-1zM72 384h1v1h-1zM618 384h1v1h-1zM72 385h1v1h-1zM618 385h1v1h-1zM72 386h1v1h-1zM618 386h1v1h-1zM72 387h1v1h-1zM618 387h1v1h-1zM72 388h1v1h-1zM618 388h1v1h-1zM72 389h1v1h-1zM618 389h1v1h-1zM72 390h1v1h-1zM618 390h1v1h-1zM72 391h1v1h-1zM618 391h1v1h-1zM72 392h1v1h-1zM618 392h1v1h-1zM72 393h1v1h-1zM618 393h1v1h-1zM72 394h1v1h-1zM618 394h1v1h-1zM72 395h1v1h-1zM618 395h1v1h-1zM72 396h1v1h-1zM618 396h1v1h-1zM72 397h1v1h-1zM618 397h1v1h-1zM72 398h1v1h-1zM618 398h1v1h-1zM72 399h1v1h-1zM618 399h1v1h-1zM72 400h1v1h-1zM618 400h1v1h-1zM72 401h1v1h-1zM618 401h1v1h-1zM72 402h1v1h-1zM618 402h1v1h-1zM72 403h1v1h-1zM618 403h1v1h-1zM72 404h1v1h-1zM618 404h1v1h-1zM72 405h1v1h-1zM618 405h1v1h-1zM72 406h1v1h-1zM618 406h1v1h-1zM72 407h1v1h-1zM618 407h1v1h-1zM72 408h1v1h-1zM618 408h1v1h-1zM72 409h1v1h-1zM618 409h1v1h-1zM72 410h1v1h-1zM618 410h1v1h-1zM72 411h1v1h-1zM618 411h1v1h-1zM72 412h1v1h-1zM618 412h1v1h-1zM72 413h1v1h-1zM618 413h1v1h-1zM72 414h1v1h-1zM618 414h1v1h-1zM72 415h1v1h-1zM618 415h1v1h-1zM72 416h1v1h-1zM618 416h1v1h-1zM72 417h1v1h-1zM618 417h1v1h-1zM72 418h1v1h-1zM618 418h1v1h-1zM72 419h1v1h-1zM618 419h1v1h-1zM72 420h1v1h-1zM618 420h1v1h-1zM72 421h1v1h-1zM618 421h1v1h-1zM72 422h1v1h-1zM618 422h1v1h-1zM72 423h1v1h-1zM618 423h1v1h-1zM72 424h1v1h-1zM618 424h1v1h-1zM72 425h1v1h-1zM618 425h1v1h-1zM72 426h1v1h-1zM618 426h1v1h-1zM72 427h1v1h-1zM618 427h1v1h-1zM72 428h1v1h-1zM618 428h1v1h-1zM72 429h1v1h-1zM618 429h1v1h-1zM72 430h1v1h-1zM618 430h1v1h-1zM72 431h1v1h-1zM618 431h1v1h-1zM72 432h1v1h-1zM618 432h1v1h-1zM72 433h1v1h-1zM618 433h1v1h-1zM72 434h1v1h-1zM618 434h1v1h-1zM72 435h1v1h-1zM618 435h1v1h-1zM72 436h1v1h-1zM618 436h1v1h-1zM72 437h1v1h-1zM618 437h1v1h-1zM72 438h1v1h-1zM618 438h1v1h-1zM72 439h1v1h-1zM618 439h1v1h-1zM72 440h1v1h-1zM618 440h1v1h-1zM72 441h1v1h-1zM618 441h1v1h-1zM72 442h1v1h-1zM618 442h1v1h-1zM72 443h1v1h-1zM618 443h1v1h-1zM72 444h1v1h-1zM618 444h1v1h-1zM72 445h1v1h-1zM618 445h1v1h-1zM72 446h1v1h-1zM618 446h1v1h-1zM72 447h1v1h-1zM618 447h1v1h-1zM72 448h1v1h-1zM618 448h1v1h-1zM72 449h1v1h-1zM618 449h1v1h-1zM72 450h1v1h-1zM618 450h1v1h-1zM72 451h1v1h-1zM618 451h1v1h-1zM72 452h1v1h-1zM618 452h1v1h-1zM72 453h1v1h-1zM618 453h1v1h-1zM72 454h1v1h-1zM618 454h1v1h-1zM72 455h1v1h-1zM618 455h1v1h-1zM72 456h1v1h-1zM618 456h1v1h-1zM72 457h1v1h-1zM618 457h1v1h-1zM72 458h1v1h-1zM618 458h1v1h-1zM72 459h1v1h-1zM618 459h1v1h-1zM72 460h1v1h-1zM618 460h1v1h-1zM72 461h1v1h-1zM618 461h1v1h-1zM72 462h1v1h-1zM618 462h1v1h-1zM72 463h1v1h-1zM618 463h1v1h-1zM72 464h1v1h-1zM618 464h1v1h-1zM72 465h1v1h-1zM618 465h1v1h-1zM72 466h1v1h-1zM618 466h1v1h-1zM72 467h1v1h-1zM618 467h1v1h-1zM72 468h1v1h-1zM618 468h1v1h-1zM72 469h1v1h-1zM618 469h1v1h-1zM72 470h1v1h-1zM618 470h1v1h-1zM72 471h1v1h-1zM618 471h1v1h-1zM72 472h1v1h-1zM618 472h1v1h-1zM72 473h1v1h-1zM618 473h1v1h-1zM72 474h1v1h-1zM618 474h1v1h-1zM72 475h1v1h-1zM618 475h1v1h-1zM72 476h1v1h-1zM618 476h1v1h-1zM72 477h1v1h-1zM618 477h1v1h-1zM72 478h1v1h-1zM618 478h1v1h-1zM72 479h1v1h-1zM618 479h1v1h-1zM72 480h1v1h-1zM618 480h1v1h-1zM72 481h1v1h-1zM618 481h1v1h-1zM72 482h1v1h-1zM618 482h1v1h-1zM72 483h1v1h-1zM618 483h1v1h-1zM72 484h1v1h-1zM618 484h1v1h-1zM72 485h1v1h-1zM618 485h1v1h-1zM72 486h1v1h-1zM618 486h1v1h-1zM72 487h1v1h-1zM618 487h1v1h-1zM72 488h1v1h-1zM618 488h1v1h-1zM72 489h1v1h-1zM618 489h1v1h-1zM72 490h1v1h-1zM618 490h1v1h-1zM72 491h1v1h-1zM618 491h1v1h-1zM72 492h1v1h-1zM618 492h1v1h-1zM72 493h1v1h-1zM618 493h1v1h-1zM72 494h1v1h-1zM618 494h1v1h-1zM72 495h1v1h-1zM618 495h1v1h-1zM72 496h1v1h-1zM618 496h1v1h-1zM72 497h1v1h-1zM618 497h1v1h-1zM72 498h1v1h-1zM618 498h1v1h-1zM72 499h1v1h-1zM618 499h1v1h-1zM72 500h1v1h-1zM618 500h1v1h-1zM72 501h1v1h-1zM618 501h1v1h-1zM72 502h1v1h-1zM618 502h1v1h-1zM72 503h1v1h-1zM618 503h1v1h-1zM72 504h1v1h-1zM618 504h1v1h-1zM72 505h1v1h-1zM618 505h1v1h-1zM72 506h1v1h-1zM618 506h1v1h-1zM72 507h1v1h-1zM618 507h1v1h-1zM72 508h1v1h-1zM618 508h1v1h-1zM72 509h1v1h-1zM618 509h1v1h-1zM72 510h1v1h-1zM618 510h1v1h-1zM72 511h1v1h-1zM618 511h1v1h-1zM72 512h1v1h-1zM618 512h1v1h-1zM72 513h1v1h-1zM618 513h1v1h-1zM72 514h1v1h-1zM618 514h1v1h-1zM72 515h1v1h-1zM618 515h1v1h-1zM72 516h1v1h-1zM618 516h1v1h-1zM72 517h1v1h-1zM618 517h1v1h-1zM72 518h1v1h-1zM618 518h1v1h-1zM72 519h1v1h-1zM618 519h1v1h-1zM72 520h1v1h-1zM618 520h1v1h-1zM72 521h1v1h-1zM618 521h1v1h-1zM72 522h1v1h-1zM618 522h1v1h-1zM72 523h1v1h-1zM618 523h1v1h-1zM72 524h1v1h-1zM618 524h1v1h-1zM72 525h1v1h-1zM618 525h1v1h-1zM72 526h1v1h-1zM618 526h1v1h-1zM72 527h1v1h-1zM618 527h1v1h-1zM72 528h1v1h-1zM618 528h1v1h-1zM72 529h1v1h-1zM618 529h1v1h-1zM72 530h1v1h-1zM618 530h1v1h-1zM72 531h1v1h-1zM618 531h1v1h-1zM72 532h1v1h-1zM618 532h1v1h-1zM72 533h1v1h-1zM618 533h1v1h-1zM72 534h1v1h-1zM618 534h1v1h-1zM72 535h1v1h-1zM618 535h1v1h-1zM72 536h1v1h-1zM618 536h1v1h-1zM72 537h1v1h-1zM618 537h1v1h-1zM72 538h1v1h-1zM618 538h1v1h-1zM72 539h1v1h-1zM618 539h1v1h-1zM72 540h1v1h-1zM618 540h1v1h-1zM72 541h1v1h-1zM618 541h1v1h-1zM72 542h1v1h-1zM618 542h1v1h-1zM72 543h1v1h-1zM618 543h1v1h-1zM72 544h1v1h-1zM618 544h1v1h-1zM72 545h1v1h-1zM618 545h1v1h-1zM72 546h1v1h-1zM618 546h1v1h-1zM72 547h1v1h-1zM618 547h1v1h-1zM72 548h1v1h-1zM618 548h1v1h-1zM72 549h1v1h-1zM618 549h1v1h-1zM72 550h1v1h-1zM618 550h1v1h-1zM72 551h1v1h-1zM618 551h1v1h-1zM72 552h1v1h-1zM618 552h1v1h-1zM72 553h1v1h-1zM618 553h1v1h-1zM72 554h1v1h-1zM618 554h1v1h-1zM72 555h1v1h-1zM618 555h1v1h-1zM72 556h547v1h-547z"/>
</g>
<g id="low-energy-cutoff">
<path d="M177 21h1v1h-1zM177 22h1v1h-1zM177 23h1v1h-1zM177 24h1v1h-1zM177 25h1v1h-1zM177 26h1v1h-1zM177 27h1v1h-1zM177 28h1v1h-1zM177 29h1v1h-1zM177 30h1v1h-1zM177 31h1v1h-1zM177 32h1v1h-1zM177 33h1v1h-1zM177 34h1v1h-1zM177 35h1v1h-1zM177 36h1v1h-1zM177 37h1v1h-1zM177 38h1v1h-1zM177 39h1v1h-1zM177 40h1v1h-1zM177 41h1v1h-1zM177 42h1v1h-1zM177 43h1v1h-1zM177 44h1v1h-1zM177 45h1v1h-1zM177 46h1v1h-1zM177 47h1v1h-1zM177 48h1v1h-1zM177 49h1v1h-1zM177 50h1v1h-1zM177 51h1v1h-1zM177 52h1v1h-1zM177 53h1v1h-1zM177 54h1v1h-1zM177 55h1v1h-1zM177 56h1v1h-1zM177 57h1v1h-1zM177 58h1v1h-1zM177 59h1v1h-1zM177 60h1v1h-1zM177 61h1v1h-1zM177 62h1v1h-1zM177 63h1v1h-1zM177 64h1v1h-1zM177 65h1v1h-1zM177 66h1v1h-1zM177 67h1v1h-1zM177 68h1v1h-1zM177 69h1v1h-1zM177 70h1v1h-1zM177 71h1v1h-1zM177 72h1v1h-1zM177 73h1v1h-1zM177 74h1v1h-1zM177 75h1v1h-1zM177 76h1v1h-1zM177 77h1v1h-1zM177 78h1v1h-1zM177 79h1v1h-1zM177 80h1v1h-1zM177 81h1v1h-1zM177 82h1v1h-1zM177 83h1v1h-1zM177 84h1v1h-1zM177 85h1v1h-1zM177 86h1v1h-1zM177 87h1v1h-1zM177 88h1v1h-1zM177 89h1v1h-1zM177 90h1v1h-1zM177 91h1v1h-1zM177 92h1v1h-1zM177 93h1v1h-1zM177 94h1v1h-1zM177 95h1v1h-1zM177 96h1v1h-1zM177 97h1v1h-1zM177 98h1v1h-1zM177 99h1v1h-1zM177 100h1v1h-1zM177 101h1v1h-1zM177 102h1v1h-1zM177 103h1v1h-1zM177 104h1v1h-1zM177 105h1v1h-1zM177 106h1v1h-1zM177 107h1v1h-1zM177 108h1v1h-1zM177 109h1v1h-1zM177 110h1v1h-1zM177 111h1v1h-1zM177 112h1v1h-1zM177 113h1v1h-1zM177 114h1v1h-1zM177 115h1v1h-1zM177 116h1v1h-1zM177 117h1v1h-1zM177 118h1v1h-1zM177 119h1v1h-1zM177 120h1v1h-1zM177 121h1v1h-1zM177 122h1v1h-1zM177 123h1v1h-1zM177 124h1v1h-1zM177 125h1v1h-1zM177 126h1v1h-1zM177 127h1v1h-1zM177 128h1v1h-1zM177 129h1v1h-1zM177 130h1v1h-1zM177 131h1v1h-1zM177 132h1v1h-1zM177 133h1v1h-1zM177 134h1v1h-1zM177 135h1v1h-1zM177 136h1v1h-1zM177 137h1v1h-1zM177 138h1v1h-1zM177 139h1v1h-1zM177 140h1v1h-1zM177 141h1v1h-1zM177 142h1v1h-1zM177 143h1v1h-1zM177 144h1v1h-1zM177 145h1v1h-1zM177 146h1v1h-1zM177 147h1v1h-1zM177 148h1v1h-1zM177 149h1v1h-1zM177 150h1v1h-1zM177 151h1v1h-1zM177 152h1v1h-1zM177 153h1v1h-1zM177 154h1v1h-1zM177 155h1v1h-1zM177 156h1v1h-1zM177 157h1v1h-1zM177 158h1v1h-1zM177 159h1v1h-1zM177 160h1v1h-1zM177 161h1v1h-1zM177 162h1v1h-1zM177 163h1v1h-1zM177 164h1v1h-1zM177 165h1v1h-1zM177 166h1v1h-1zM177 167h1v1h-1zM177 168h1v1h-1zM177 169h1v1h-1zM177 170h1v1h-1zM177 171h1v1h-1zM177 172h1v1h-1zM177 173h1v1h-1zM177 174h1v1h-1zM177 175h1v1h-1zM177 176h1v1h-1zM177 177h1v1h-1zM177 178h1v1h-1zM177 179h1v1h-1zM177 180h1v1h-1zM177 181h1v1h-1zM177 182h1v1h-1zM177 183h1v1h-1zM177 184h1v1h-1zM177 185h1v1h-1zM177 186h1v1h-1zM177 187h1v1h-1zM177 188h1v1h-1zM177 189h1v1h-1zM177 190h1v1h-1zM177 191h1v1h-1zM177 192h1v1h-1zM177 193h1v1h-1zM177 194h1v1h-1zM177 195h1v1h-1zM177 196h1v1h-1zM177 197h1v1h-1zM177 198h1v1h-1zM177 199h1v1h-1zM177 200h1v1h-1zM177 201h1v1h-1zM177 202h1v1h-1zM177 203h1v1h-1zM177 204h1v1h-1zM177 205h1v1h-1zM177 206h1v1h-1zM177 207h1v1h-1zM177 208h1v1h-1zM177 209h1v1h-1zM177 210h1v1h-1zM177 211h1v1h-1zM177 212h1v1h-1zM177 213h1v1h-1zM177 214h1v1h-1zM177 215h1v1h-1zM177 216h1v1h-1zM177 217h1v1h-1zM177 218h1v1h-1zM177 219h1v1h-1zM177 220h1v1h-1zM177 221h1v1h-1zM177 222h1v1h-1zM177 223h1v1h-1zM177 224h1v1h-1zM177 225h1v1h-1zM177 226h1v1h-1zM177 227h1v1h-1zM177 228h1v1h-1zM177 229h1v1h-1zM177 230h1v1h-1zM177 231h1v1h-1zM177 232h1v1h-1zM177 233h1v1h-1zM177 234h1v1h-1zM177 235h1v1h-1zM177 236h1v1h-1zM177 237h1v1h-1zM177 238h1v1h-1zM177 239h1v1h-1zM177 240h1v1h-1zM177 241h1v1h-1zM177 242h1v1h-1zM177 243h1v1h-1zM177 244h1v1h-1zM177 245h1v1h-1zM177 246h1v1h-1zM177 247h1v1h-1zM177 248h1v1h-1zM177 249h1v1h-1zM177 250h1v1h-1zM177 251h1v1h-1zM177 252h1v1h-1zM177 253h1v1h-1zM177 254h1v1h-1zM177 255h1v1h-1zM177 256h1v1h-1zM177 257h1v1h-1zM177 258h1v1h-1zM177 259h1v1h-1zM177 260h1v1h-1zM177 261h1v1h-1zM177 262h1v1h-1zM177 263h1v1h-1zM177 264h1v1h-1zM177 265h1v1h-1zM177 266h1v1h-1zM177 267h1v1h-1zM177 268h1v1h-1zM177 269h1v1h-1zM177 270h1v1h-1zM177 271h1v1h-1zM177 272h1v1h-1zM177 273h1v1h-1zM177 274h1v1h-1zM177 275h1v1h-1zM177 276h1v1h-1zM177 277h1v1h-1zM177 278h1v1h-1zM177 279h1v1h-1zM177 280h1v1h-1zM177 281h1v1h-1zM177 282h1v1h-1zM177 283h1v1h-1zM177 284h1v1h-1zM177 285h1v1h-1zM177 286h1v1h-1zM177 287h1v1h-1zM177 288h1v1h-1zM177 289h1v1h-1zM177 290h1v1h-1zM177 291h1v1h-1zM177 292h1v1h-1zM177 293h1v1h-1zM177 294h1v1h-1zM177 295h1v1h-1zM177 296h1v1h-1zM177 297h1v1h-1zM177 298h1v1h-1zM177 299h1v1h-1zM177 300h1v1h-1zM177 301h1v1h-1zM177 302h1v1h-1zM177 303h1v1h-1zM177 304h1v1h-1zM177 305h1v1h-1zM177 306h1v1h-1zM177 307h1v1h-1zM177 308h1v1h-1zM177 309h1v1h-1zM177 310h1v1h-1zM177 311h1v1h-1zM177 312h1v1h-1zM177 313h1v1h-1zM177 314h1v1h-1zM177 315h1v1h-1zM177 316h1v1h-1zM177 317h1v1h-1zM177 318h1v1h-1zM177 319h1v1h-1zM177 320h1v1h-1zM177 321h1v1h-1zM177 322h1v1h-1zM177 323h1v1h-1zM177 324h1v1h-1zM177 325h1v1h-1zM177 326h1v1h-1zM177 327h1v1h-1zM177 328h1v1h-1zM177 329h1v1h-1zM177 330h1v1h-1zM177 331h1v1h-1zM177 332h1v1h-1zM177 333h1v1h-1zM177 334h1v1h-1zM177 335h1v1h-1zM177 336h1v1h-1zM177 337h1v1h-1zM177 338h1v1h-1zM177 339h1v1h-1zM177 340h1v1h-1zM177 341h1v1h-1zM177 342h1v1h-1zM177 343h1v1h-1zM177 344h1v1h-1zM177 345h1v1h-1zM177 346h1v1h-1zM177 347h1v1h-1zM177 348h1v1h-1zM177 349h1v1h-1zM177 350h1v1h-1zM177 351h1v1h-1zM177 352h1v1h-1zM177 353h1v1h-1zM177 354h1v1h-1zM177 355h1v1h-1zM177 356h1v1h-1zM177 357h1v1h-1zM177 358h1v1h-1zM177 359h1v1h-1zM177 360h1v1h-1zM177 361h1v1h-1zM177 362h1v1h-1zM177 363h1v1h-1zM177 364h1v1h-1zM177 365h1v1h-1zM177 366h1v1h-1zM177 367h1v1h-1zM177 368h1v1h-1zM177 369h1v1h-1zM177 370h1v1h-1zM177 371h1v1h-1zM177 372h1v1h-1zM177 373h1v1h-1zM177 374h1v1h-1zM177 375h1v1h-1zM177 376h1v1h-1zM177 377h1v1h-1zM177 378h1v1h-1zM177 379h1v1h-1zM177 380h1v1h-1zM177 381h1v1h-1zM177 382h1v1h-1zM177 383h1v1h-1zM177 384h1v1h-1zM177 385h1v1h-1zM177 386h1v1h-1zM177 387h1v1h-1zM177 388h1v1h-1zM177 389h1v1h-1zM177 390h1v1h-1zM177 391h1v1h-1zM177 392h1v1h-1zM177 393h1v1h-1zM177 394h1v1h-1zM177 395h1v1h-1zM177 396h1v1h-1zM177 397h1v1h-1zM177 398h1v1h-1zM177 399h1v1h-1zM177 400h1v1h-1zM177 401h1v1h-1zM177 402h1v1h-1zM177 403h1v1h-1zM177 404h1v1h-1zM177 405h1v1h-1zM177 406h1v1h-1zM177 407h1v1h-1zM177 408h1v1h-1zM177 409h1v1h-1zM177 410h1v1h-1zM177 411h1v1h-1zM177 412h1v1h-1zM177 413h1v1h-1zM177 414h1v1h-1zM177 415h1v1h-1zM177 416h1v1h-1zM177 417h1v1h-1zM177 418h1v1h-1zM177 419h1v1h-1zM177 420h1v1h-1zM177 421h1v1h-1zM177 422h1v1h-1zM177 423h1v1h-1zM177 424h1v1h-1zM177 425h1v1h-1zM177 426h1v1h-1zM177 427h1v1h-1zM177 428h1v1h-1zM177 429h1v1h-1zM177 430h1v1h-1zM177 431h1v1h-1zM177 432h1v1h-1zM177 433h1v1h-1zM177 434h1v1h-1zM177 435h1v1h-1zM177 436h1v1h-1zM177 437h1v1h-1zM177 438h1v1h-1zM177 439h1v1h-1zM177 440h1v1h-1zM177 441h1v1h-1zM177 442h1v1h-1zM177 443h1v1h-1zM177 444h1v1h-1zM177 445h1v1h-1zM177 446h1v1h-1zM177 447h1v1h-1zM177 448h1v1h-1zM177 449h1v1h-1zM177 450h1v1h-1zM177 451h1v1h-1zM177 452h1v1h-1zM177 453h1v1h-1zM177 454h1v1h-1zM177 455h1v1h-1zM177 456h1v1h-1zM177 457h1v1h-1zM177 458h1v1h-1zM177 459h1v1h-1zM177 460h1v1h-1zM177 461h1v1h-1zM177 462h1v1h-1zM177 463h1v1h-1zM177 464h1v1h-1zM177 465h1v1h-1zM177 466h1v1h-1zM177 467h1v1h-1zM177 468h1v1h-1zM177 469h1v1h-1zM177 470h1v1h-1zM177 471h1v1h-1zM177 472h1v1h-1zM177 473h1v1h-1zM177 474h1v1h-1zM177 475h1v1h-1zM177 476h1v1h-1zM177 477h1v1h-1zM177 478h1v1h-1zM177 479h1v1h-1zM177 480h1v1h-1zM177 481h1v1h-1zM177 482h1v1h-1zM177 483h1v1h-1zM177 484h1v1h-1zM177 485h1v1h-1zM177 486h1v1h-1zM177 487h1v1h-1zM177 488h1v1h-1zM177 489h1v1h-1zM177 490h1v1h-1zM177 491h1v1h-1zM177 492h1v1h-1zM177 493h1v1h-1zM177 494h1v1h-1zM177 495h1v1h-1zM177 496h1v1h-1zM177 497h1v1h-1zM177 498h1v1h-1zM177 499h1v1h-1zM177 500h1v1h-1zM177 501h1v1h-1zM177 502h1v1h-1zM177 503h1v1h-1zM177 504h1v1h-1zM177 505h1v1h-1zM177 506h1v1h-1zM177 507h1v1h-1zM177 508h1v1h-1zM177 509h1v1h-1zM177 510h1v1h-1zM177 511h1v1h-1zM177 512h1v1h-1zM177 513h1v1h-1zM177 514h1v1h-1zM177 515h1v1h-1zM177 516h1v1h-1zM177 517h1v1h-1zM177 518h1v1h-1zM177 519h1v1h-1zM177 520h1v1h-1zM177 521h1v1h-1zM177 522h1v1h-1zM177 523h1v1h-1zM177 524h1v1h-1zM177 525h1v1h-1zM177 526h1v1h-1zM177 527h1v1h-1zM177 528h1v1h-1zM177 529h1v1h-1zM177 530h1v1h-1zM177 531h1v1h-1zM177 532h1v1h-1zM177 533h1v1h-1zM177 534h1v1h-1zM177 535h1v1h-1zM177 536h1v1h-1zM177 537h1v1h-1zM177 538h1v1h-1zM177 539h1v1h-1zM177 540h1v1h-1zM177 541h1v1h-1zM177 542h1v1h-1zM177 543h1v1h-1zM177 544h1v1h-1zM177 545h1v1h-1zM177 546h1v1h-1zM177 547h1v1h-1zM177 548h1v1h-1zM177 549h1v1h-1zM177 550h1v1h-1zM177 551h1v1h-1zM177 552h1v1h-1zM177 553h1v1h-1zM177 554h1v1h-1zM177 555h1v1h-1zM177 556h1v1h-1z"/>
</g>
<g id="ticks">
<path d="M72 21h12v1h-12zM138 21h1v1h-1zM177 21h1v1h-1zM205 21h1v1h-1zM226 21h1v1h-1zM244 21h1v1h-1zM258 21h1v1h-1zM271 21h1v1h-1zM282 21h1v1h-1zM293 21h1v1h-1zM359 21h1v1h-1zM398 21h1v1h-1zM425 21h1v1h-1zM447 21h1v1h-1zM464 21h1v1h-1zM479 21h1v1h-1zM492 21h1v1h-1zM503 21h1v1h-1zM513 21h1v1h-1zM580 21h1v1h-1zM607 21h12v1h-12zM72 22h1v1h-1zM138 22h1v1h-1zM177 22h1v1h-1zM205 22h1v1h-1zM226 22h1v1h-1zM244 22h1v1h-1zM258 22h1v1h-1zM271 22h1v1h-1zM282 22h1v1h-1zM293 22h1v1h-1zM359 22h1v1h-1zM398 22h1v1h-1zM425 22h1v1h-1zM447 22h1v1h-1zM464 22h1v1h-1zM479 22h1v1h-1zM492 22h1v1h-1zM503 22h1v1h-1zM513 22h1v1h-1zM580 22h1v1h-1zM618 22h1v1h-1zM72 23h1v1h-1zM138 23h1v1h-1zM177 23h1v1h-1zM205 23h1v1h-1zM226 23h1v1h-1zM244 23h1v1h-1zM258 23h1v1h-1zM271 23h1v1h-1zM282 23h1v1h-1zM293 23h1v1h-1zM359 23h1v1h-1zM398 23h1v1h-1zM425 23h1v1h-1zM447 23h1v1h-1zM464 23h1v1h-1zM479 23h1v1h-1zM492 23h1v1h-1zM503 23h1v1h-1zM513 23h1v1h-1zM580 23h1v1h-1zM618 23h1v1h-1zM72 24h1v1h-1zM138 24h1v1h-1zM177 24h1v1h-1zM205 24h1v1h-1zM226 24h1v1h-1zM244 24h1v1h-1zM258 24h1v1h-1zM271 24h1v1h-1zM282 24h1v1h-1zM293 24h1v1h-1zM359 24h1v1h-1zM398 24h1v1h-1zM425 24h1v1h-1zM447 24h1v1h-1zM464 24h1v1h-1zM479 24h1v1h-1zM492 24h1v1h-1zM503 24h1v1h-1zM513 24h1v1h-1zM580 24h1v1h-1zM618 24h1v1h-1zM72 25h1v1h-1zM138 25h1v1h-1zM177 25h1v1h-1zM205 25h1v1h-1zM226 25h1v1h-1zM244 25h1v1h-1zM258 25h1v1h-1zM271 25h1v1h-1zM282 25h1v1h-1zM293 25h1v1h-1zM359 25h1v1h-1zM398 25h1v1h-1zM425 25h1v1h-1zM447 25h1v1h-1zM464 25h1v1h-1zM479 25h1v1h-1zM492 25h1v1h-1zM503 25h1v1h-1zM513 25h1v1h-1zM580 25h1v1h-1zM618 25h1v1h-1zM72 26h1v1h-1zM138 26h1v1h-1zM177 26h1v1h-1zM205 26h1v1h-1zM226 26h1v1h-1zM244 26h1v1h-1zM258 26h1v1h-1zM271 26h1v1h-1zM282 26h1v1h-1zM293 26h1v1h-1zM359 26h1v1h-1zM398 26h1v1h-1zM425 26h1v1h-1zM447 26h1v1h-1zM464 26h1v1h-1zM479 26h1v1h-1zM492 26h1v1h-1zM503 26h1v1h-1zM513 26h1v1h-1zM580 26h1v1h-1zM618 26h1v1h-1zM72 27h6v1h-6zM293 27h1v1h-1zM513 27h1v1h-1zM613 27h6v1h-6zM72 28h1v1h-1zM293 28h1v1h-1zM513 28h1v1h-1zM72 29h1v1h-1zM293 29h1v1h-1zM513 29h1v1h-1zM72 30h1v1h-1zM293 30h1v1h-1zM513 30h1v1h-1zM72 31h1v1h-1zM293 31h1v1h-1zM513 31h1v1h-1zM72 32h1v1h-1zM293 32h1v1h-1zM513 32h1v1h-1zM72 34h6v1h-6zM613 34h6v1h-6zM72 41h6v1h-6zM613 41h6v1h-6zM72 50h6v1h-6zM613 50h6v1h-6zM72 61h6v1h-6zM613 61h6v1h-6zM72 74h6v1h-6zM613 74h6v1h-6zM72 91h6v1h-6zM613 91h6v1h-6zM72 114h6v1h-6zM613 114h6v1h-6zM72 154h12v1h-12zM607 154h12v1h-12zM72 161h6v1h-6zM613 161h6v1h-6zM72 167h6v1h-6zM613 167h6v1h-6zM72 175h6v1h-6zM613 175h6v1h-6zM72 184h6v1h-6zM613 184h6v1h-6zM72 195h6v1h-6zM613 195h6v1h-6zM72 208h6v1h-6zM613 208h6v1h-6zM72 224h6v1h-6zM613 224h6v1h-6zM72 248h6v1h-6zM613 248h6v1h-6zM72 288h12v1h-12zM607 288h12v1h-12zM72 294h6v1h-6zM613 294h6v1h-6zM72 301h6v1h-6zM613 301h6v1h-6zM72 309h6v1h-6zM613 309h6v1h-6zM72 318h6v1h-6zM613 318h6v1h-6zM72 328h6v1h-6zM613 328h6v1h-6zM72 341h6v1h-6zM613 341h6v1h-6zM72 358h6v1h-6zM613 358h6v1h-6zM72 382h6v1h-6zM613 382h6v1h-6zM72 422h12v1h-12zM607 422h12v1h-12zM72 428h6v1h-6zM613 428h6v1h-6zM72 435h6v1h-6zM613 435h6v1h-6zM72 443h6v1h-6zM613 443h6v1h-6zM72 452h6v1h-6zM613 452h6v1h-6zM72 462h6v1h-6zM613 462h6v1h-6zM72 475h6v1h-6zM613 475h6v1h-6zM72 492h6v1h-6zM613 492h6v1h-6zM72 516h6v1h-6zM613 516h6v1h-6zM72 545h1v1h-1zM293 545h1v1h-1zM513 545h1v1h-1zM72 546h1v1h-1zM293 546h1v1h-1zM513 546h1v1h-1zM72 547h1v1h-1zM293 547h1v1h-1zM513 547h1v1h-1zM72 548h1v1h-1zM293 548h1v1h-1zM513 548h1v1h-1zM72 549h1v1h-1zM293 549h1v1h-1zM513 549h1v1h-1zM72 550h1v1h-1zM293 550h1v1h-1zM513 550h1v1h-1zM72 551h1v1h-1zM138 551h1v1h-1zM177 551h1v1h-1zM205 551h1v1h-1zM226 551h1v1h-1zM244 551h1v1h-1zM258 551h1v1h-1zM271 551h1v1h-1zM282 551h1v1h-1zM293 551h1v1h-1zM359 551h1v1h-1zM398 551h1v1h-1zM425 551h1v1h-1zM447 551h1v1h-1zM464 551h1v1h-1zM479 551h1v1h-1zM492 551h1v1h-1zM503 551h1v1h-1zM513 551h1v1h-1zM580 551h1v1h-1zM618 551h1v1h-1zM72 552h1v1h-1zM138 552h1v1h-1zM177 552h1v1h-1zM205 552h1v1h-1zM226 552h1v1h-1zM244 552h1v1h-1zM258 552h1v1h-1zM271 552h1v1h-1zM282 552h1v1h-1zM293 552h1v1h-1zM359 552h1v1h-1zM398 552h1v1h-1zM425 552h1v1h-1zM447 552h1v1h-1zM464 552h1v1h-1zM479 552h1v1h-1zM492 552h1v1h-1zM503 552h1v1h-1zM513 552h1v1h-1zM580 552h1v1h-1zM618 552h1v1h-1zM72 553h1v1h-1zM138 553h1v1h-1zM177 553h1v1h-1zM205 553h1v1h-1zM226 553h1v1h-1zM244 553h1v1h-1zM258 553h1v1h-1zM271 553h1v1h-1zM282 553h1v1h-1zM293 553h1v1h-1zM359 553h1v1h-1zM398 553h1v1h-1zM425 553h1v1h-1zM447 553h1v1h-1zM464 553h1v1h-1zM479 553h1v1h-1zM492 553h1v1h-1zM503 553h1v1h-1zM513 553h1v1h-1zM580 553h1v1h-1zM618 553h1v1h-1zM72 554h1v1h-1zM138 554h1v1h-1zM177 554h1v1h-1zM205 554h1v1h-1zM226 554h1v1h-1zM244 554h1v1h-1zM258 554h1v1h-1zM271 554h1v1h-1zM282 554h1v1h-1zM293 554h1v1h-1zM359 554h1v1h-1zM398 554h1v1h-1zM425 554h1v1h-1zM447 554h1v1h-1zM464 554h1v1h-1zM479 554h1v1h-1zM492 554h1v1h-1zM503 554h1v1h-1zM513 554h1v1h-1zM580 554h1v1h-1zM618 554h1v1h-1zM72 555h1v1h-1zM138 555h1v1h-1zM177 555h1v1h-1zM205 555h1v1h-1zM226 555h1v1h-1zM244 555h1v1h-1zM258 555h1v1h-1zM271 555h1v1h-1zM282 555h1v1h-1zM293 555h1v1h-1zM359 555h1v1h-1zM398 555h1v1h-1zM425 555h1v1h-1zM447 555h1v1h-1zM464 555h1v1h-1zM479 555h1v1h-1zM492 555h1v1h-1zM503 555h1v1h-1zM513 555h1v1h-1zM580 555h1v1h-1zM618 555h1v1h-1zM72 556h12v1h-12zM138 556h1v1h-1zM177 556h1v1h-1zM205 556h1v1h-1zM226 556h1v1h-1zM244 556h1v1h-1zM258 556h1v1h-1zM271 556h1v1h-1zM282 556h1v1h-1zM293 556h1v1h-1zM359 556h1v1h-1zM398 556h1v1h-1zM425 556h1v1h-1zM447 556h1v1h-1zM464 556h1v1h-1zM479 556h1v1h-1zM492 556h1v1h-1zM503 556h1v1h-1zM513 556h1v1h-1zM580 556h1v1h-1zM607 556h12v1h-12z"/>
</g>
<g id="text-count-spectra-for-rhessi-fro">
<text x="345.2" y="14.0" font-size="13.9" text-anchor="middle">Count Spectra for RHESSI Front Segments</text>
<path d="M189 4h3v1h-3zM224 4h1v1h-1zM238 4h3v1h-3zM273 4h1v1h-1zM302 4h2v1h-2zM329 4h6v1h-6zM339 4h1v1h-1zM346 4h1v1h-1zM349 4h7v1h-7zM360 4h3v1h-3zM369 4h4v1h-4zM377 4h1v1h-1zM389 4h7v1h-7zM422 4h1v1h-1zM436 4h3v1h-3zM494 4h1v1h-1zM188 5h1v1h-1zM192 5h1v1h-1zM224 5h1v1h-1zM237 5h1v1h-1zM241 5h2v1h-2zM273 5h1v1h-1zM301 5h1v1h-1zM329 5h1v1h-1zM335 5h1v1h-1zM339 5h1v1h-1zM346 5h1v1h-1zM349 5h1v1h-1zM359 5h1v1h-1zM363 5h2v1h-2zM368 5h1v1h-1zM373 5h1v1h-1zM377 5h1v1h-1zM389 5h1v1h-1zM422 5h1v1h-1zM435 5h1v1h-1zM439 5h2v1h-2zM494 5h1v1h-1zM187 6h1v1h-1zM193 6h1v1h-1zM224 6h1v1h-1zM236 6h1v1h-1zM243 6h1v1h-1zM273 6h1v1h-1zM301 6h1v1h-1zM329 6h1v1h-1zM336 6h1v1h-1zM339 6h1v1h-1zM346 6h1v1h-1zM349 6h1v1h-1zM358 6h1v1h-1zM364 6h1v1h-1zM367 6h1v1h-1zM374 6h1v1h-1zM377 6h1v1h-1zM389 6h1v1h-1zM422 6h1v1h-1zM434 6h1v1h-1zM441 6h1v1h-1zM494 6h1v1h-1zM186 7h1v1h-1zM193 7h1v1h-1zM224 7h1v1h-1zM236 7h1v1h-1zM273 7h1v1h-1zM301 7h1v1h-1zM329 7h1v1h-1zM336 7h1v1h-1zM339 7h1v1h-1zM346 7h1v1h-1zM349 7h1v1h-1zM358 7h1v1h-1zM367 7h1v1h-1zM377 7h1v1h-1zM389 7h1v1h-1zM422 7h1v1h-1zM434 7h1v1h-1zM494 7h1v1h-1zM186 8h1v1h-1zM197 8h5v1h-5zM205 8h1v1h-1zM211 8h1v1h-1zM214 8h1v1h-1zM216 8h4v1h-4zM222 8h5v1h-5zM237 8h1v1h-1zM246 8h5v1h-5zM256 8h4v1h-4zM265 8h4v1h-4zM271 8h4v1h-4zM278 8h5v1h-5zM285 8h5v1h-5zM300 8h4v1h-4zM307 8h4v1h-4zM315 8h1v1h-1zM317 8h3v1h-3zM329 8h1v1h-1zM335 8h1v1h-1zM339 8h1v1h-1zM346 8h1v1h-1zM349 8h1v1h-1zM358 8h2v1h-2zM368 8h1v1h-1zM377 8h1v1h-1zM389 8h1v1h-1zM397 8h1v1h-1zM399 8h3v1h-3zM404 8h5v1h-5zM412 8h1v1h-1zM414 8h4v1h-4zM420 8h5v1h-5zM435 8h1v1h-1zM445 8h4v1h-4zM453 8h6v1h-6zM462 8h5v1h-5zM468 8h4v1h-4zM477 8h4v1h-4zM484 8h1v1h-1zM486 8h4v1h-4zM492 8h5v1h-5zM499 8h5v1h-5zM186 9h1v1h-1zM196 9h1v1h-1zM202 9h1v1h-1zM205 9h1v1h-1zM211 9h1v1h-1zM214 9h2v1h-2zM219 9h1v1h-1zM224 9h1v1h-1zM238 9h2v1h-2zM246 9h1v1h-1zM251 9h1v1h-1zM255 9h1v1h-1zM260 9h1v1h-1zM264 9h1v1h-1zM269 9h1v1h-1zM273 9h1v1h-1zM278 9h1v1h-1zM284 9h1v1h-1zM289 9h1v1h-1zM301 9h1v1h-1zM306 9h1v1h-1zM311 9h1v1h-1zM315 9h2v1h-2zM329 9h7v1h-7zM339 9h8v1h-8zM349 9h5v1h-5zM360 9h2v1h-2zM369 9h2v1h-2zM377 9h1v1h-1zM389 9h4v1h-4zM397 9h2v1h-2zM403 9h1v1h-1zM408 9h1v1h-1zM412 9h2v1h-2zM417 9h1v1h-1zM422 9h1v1h-1zM436 9h2v1h-2zM444 9h1v1h-1zM449 9h1v1h-1zM453 9h1v1h-1zM458 9h1v1h-1zM462 9h1v1h-1zM466 9h2v1h-2zM471 9h1v1h-1zM476 9h1v1h-1zM480 9h1v1h-1zM484 9h2v1h-2zM489 9h1v1h-1zM494 9h1v1h-1zM498 9h1v1h-1zM504 9h1v1h-1zM186 10h1v1h-1zM196 10h1v1h-1zM202 10h1v1h-1zM205 10h1v1h-1zM211 10h1v1h-1zM214 10h1v1h-1zM220 10h1v1h-1zM224 10h1v1h-1zM240 10h3v1h-3zM246 10h1v1h-1zM251 10h1v1h-1zM255 10h1v1h-1zM260 10h1v1h-1zM264 10h1v1h-1zM273 10h1v1h-1zM278 10h1v1h-1zM284 10h1v1h-1zM289 10h1v1h-1zM301 10h1v1h-1zM306 10h1v1h-1zM312 10h1v1h-1zM315 10h1v1h-1zM329 10h1v1h-1zM333 10h1v1h-1zM339 10h1v1h-1zM346 10h1v1h-1zM349 10h1v1h-1zM362 10h3v1h-3zM371 10h3v1h-3zM377 10h1v1h-1zM389 10h1v1h-1zM397 10h1v1h-1zM403 10h1v1h-1zM409 10h1v1h-1zM412 10h1v1h-1zM417 10h1v1h-1zM422 10h1v1h-1zM438 10h3v1h-3zM444 10h1v1h-1zM449 10h1v1h-1zM453 10h1v1h-1zM458 10h1v1h-1zM462 10h1v1h-1zM467 10h1v1h-1zM472 10h1v1h-1zM476 10h1v1h-1zM481 10h1v1h-1zM484 10h1v1h-1zM489 10h1v1h-1zM494 10h1v1h-1zM499 10h1v1h-1zM186 11h1v1h-1zM196 11h1v1h-1zM202 11h1v1h-1zM205 11h1v1h-1zM211 11h1v1h-1zM214 11h1v1h-1zM220 11h1v1h-1zM224 11h1v1h-1zM242 11h1v1h-1zM246 11h1v1h-1zM252 11h1v1h-1zM255 11h6v1h-6zM263 11h1v1h-1zM273 11h1v1h-1zM278 11h1v1h-1zM283 11h1v1h-1zM289 11h1v1h-1zM301 11h1v1h-1zM306 11h1v1h-1zM312 11h1v1h-1zM315 11h1v1h-1zM329 11h1v1h-1zM334 11h1v1h-1zM339 11h1v1h-1zM346 11h1v1h-1zM349 11h1v1h-1zM364 11h1v1h-1zM373 11h1v1h-1zM377 11h1v1h-1zM389 11h1v1h-1zM397 11h1v1h-1zM403 11h1v1h-1zM409 11h1v1h-1zM412 11h1v1h-1zM417 11h1v1h-1zM422 11h1v1h-1zM440 11h1v1h-1zM444 11h6v1h-6zM452 11h1v1h-1zM458 11h1v1h-1zM462 11h1v1h-1zM467 11h1v1h-1zM472 11h1v1h-1zM475 11h7v1h-7zM484 11h1v1h-1zM489 11h1v1h-1zM494 11h1v1h-1zM500 11h3v1h-3zM186 12h1v1h-1zM193 12h1v1h-1zM196 12h1v1h-1zM202 12h1v1h-1zM205 12h1v1h-1zM211 12h1v1h-1zM214 12h1v1h-1zM220 12h1v1h-1zM224 12h1v1h-1zM243 12h1v1h-1zM246 12h1v1h-1zM252 12h1v1h-1zM255 12h1v1h-1zM263 12h1v1h-1zM273 12h1v1h-1zM278 12h1v1h-1zM283 12h1v1h-1zM289 12h1v1h-1zM301 12h1v1h-1zM306 12h1v1h-1zM312 12h1v1h-1zM315 12h1v1h-1zM329 12h1v1h-1zM334 12h1v1h-1zM339 12h1v1h-1zM346 12h1v1h-1zM349 12h1v1h-1zM364 12h1v1h-1zM374 12h1v1h-1zM377 12h1v1h-1zM389 12h1v1h-1zM397 12h1v1h-1zM403 12h1v1h-1zM409 12h1v1h-1zM412 12h1v1h-1zM417 12h1v1h-1zM422 12h1v1h-1zM441 12h1v1h-1zM444 12h1v1h-1zM452 12h1v1h-1zM458 12h1v1h-1zM462 12h1v1h-1zM467 12h1v1h-1zM472 12h1v1h-1zM475 12h1v1h-1zM484 12h1v1h-1zM489 12h1v1h-1zM494 12h1v1h-1zM503 12h1v1h-1zM187 13h1v1h-1zM193 13h1v1h-1zM196 13h1v1h-1zM202 13h1v1h-1zM205 13h1v1h-1zM211 13h1v1h-1zM214 13h1v1h-1zM220 13h1v1h-1zM224 13h1v1h-1zM236 13h1v1h-1zM243 13h1v1h-1zM246 13h1v1h-1zM251 13h1v1h-1zM255 13h1v1h-1zM260 13h1v1h-1zM264 13h1v1h-1zM269 13h1v1h-1zM273 13h1v1h-1zM278 13h1v1h-1zM284 13h1v1h-1zM289 13h1v1h-1zM301 13h1v1h-1zM306 13h1v1h-1zM311 13h1v1h-1zM315 13h1v1h-1zM329 13h1v1h-1zM335 13h1v1h-1zM339 13h1v1h-1zM346 13h1v1h-1zM349 13h1v1h-1zM358 13h1v1h-1zM364 13h1v1h-1zM367 13h1v1h-1zM374 13h1v1h-1zM377 13h1v1h-1zM389 13h1v1h-1zM397 13h1v1h-1zM403 13h1v1h-1zM408 13h1v1h-1zM412 13h1v1h-1zM417 13h1v1h-1zM422 13h1v1h-1zM434 13h1v1h-1zM441 13h1v1h-1zM444 13h1v1h-1zM449 13h1v1h-1zM453 13h1v1h-1zM458 13h1v1h-1zM462 13h1v1h-1zM467 13h1v1h-1zM472 13h1v1h-1zM476 13h1v1h-1zM481 13h1v1h-1zM484 13h1v1h-1zM489 13h1v1h-1zM494 13h1v1h-1zM498 13h1v1h-1zM504 13h1v1h-1zM188 14h5v1h-5zM197 14h5v1h-5zM206 14h6v1h-6zM214 14h1v1h-1zM220 14h1v1h-1zM224 14h3v1h-3zM237 14h6v1h-6zM246 14h5v1h-5zM256 14h4v1h-4zM265 14h4v1h-4zM273 14h3v1h-3zM278 14h1v1h-1zM285 14h5v1h-5zM301 14h1v1h-1zM307 14h4v1h-4zM315 14h1v1h-1zM329 14h1v1h-1zM336 14h1v1h-1zM339 14h1v1h-1zM346 14h1v1h-1zM349 14h7v1h-7zM359 14h6v1h-6zM368 14h6v1h-6zM377 14h1v1h-1zM389 14h1v1h-1zM397 14h1v1h-1zM404 14h5v1h-5zM412 14h1v1h-1zM417 14h1v1h-1zM422 14h3v1h-3zM435 14h6v1h-6zM445 14h4v1h-4zM453 14h6v1h-6zM462 14h1v1h-1zM467 14h1v1h-1zM472 14h1v1h-1zM477 14h4v1h-4zM484 14h1v1h-1zM489 14h1v1h-1zM494 14h3v1h-3zM499 14h5v1h-5zM246 15h1v1h-1zM458 15h1v1h-1zM246 16h1v1h-1zM458 16h1v1h-1zM246 17h1v1h-1zM453 17h1v1h-1zM457 17h1v1h-1zM246 18h1v1h-1zM454 18h3v1h-3z"/>
</g>
<g id="text-energy--kev">
<text x="345.2" y="585.8" font-size="11.1" text-anchor="middle">Energy (keV)</text>
<path d="M356 577h1v1h-1zM379 577h1v1h-1zM308 578h6v1h-6zM356 578h1v1h-1zM359 578h1v1h-1zM371 578h1v1h-1zM377 578h1v1h-1zM379 578h1v1h-1zM308 579h1v1h-1zM355 579h1v1h-1zM359 579h1v1h-1zM371 579h1v1h-1zM377 579h1v1h-1zM380 579h1v1h-1zM308 580h1v1h-1zM354 580h1v1h-1zM359 580h1v1h-1zM372 580h1v1h-1zM376 580h1v1h-1zM381 580h1v1h-1zM308 581h1v1h-1zM315 581h1v1h-1zM317 581h3v1h-3zM323 581h4v1h-4zM329 581h1v1h-1zM331 581h2v1h-2zM335 581h5v1h-5zM341 581h1v1h-1zM345 581h1v1h-1zM354 581h1v1h-1zM359 581h1v1h-1zM363 581h1v1h-1zM366 581h4v1h-4zM372 581h1v1h-1zM376 581h1v1h-1zM381 581h1v1h-1zM308 582h4v1h-4zM315 582h2v1h-2zM320 582h1v1h-1zM323 582h1v1h-1zM326 582h2v1h-2zM329 582h2v1h-2zM334 582h1v1h-1zM339 582h1v1h-1zM341 582h1v1h-1zM345 582h1v1h-1zM354 582h1v1h-1zM359 582h1v1h-1zM362 582h1v1h-1zM365 582h1v1h-1zM369 582h2v1h-2zM372 582h1v1h-1zM376 582h1v1h-1zM381 582h1v1h-1zM308 583h1v1h-1zM315 583h1v1h-1zM320 583h1v1h-1zM322 583h6v1h-6zM329 583h1v1h-1zM334 583h1v1h-1zM339 583h1v1h-1zM342 583h1v1h-1zM344 583h1v1h-1zM354 583h1v1h-1zM359 583h1v1h-1zM361 583h1v1h-1zM365 583h6v1h-6zM373 583h1v1h-1zM375 583h1v1h-1zM381 583h1v1h-1zM308 584h1v1h-1zM315 584h1v1h-1zM320 584h1v1h-1zM322 584h1v1h-1zM329 584h1v1h-1zM334 584h1v1h-1zM339 584h1v1h-1zM342 584h1v1h-1zM344 584h1v1h-1zM354 584h1v1h-1zM359 584h2v1h-2zM362 584h1v1h-1zM365 584h1v1h-1zM373 584h1v1h-1zM375 584h1v1h-1zM381 584h1v1h-1zM308 585h1v1h-1zM315 585h1v1h-1zM320 585h1v1h-1zM323 585h1v1h-1zM327 585h1v1h-1zM329 585h1v1h-1zM334 585h1v1h-1zM339 585h1v1h-1zM343 585h1v1h-1zM354 585h1v1h-1zM359 585h1v1h-1zM362 585h1v1h-1zM365 585h1v1h-1zM370 585h1v1h-1zM374 585h1v1h-1zM381 585h1v1h-1zM308 586h6v1h-6zM315 586h1v1h-1zM320 586h1v1h-1zM323 586h4v1h-4zM329 586h1v1h-1zM335 586h5v1h-5zM343 586h1v1h-1zM354 586h1v1h-1zM359 586h1v1h-1zM363 586h1v1h-1zM366 586h4v1h-4zM374 586h1v1h-1zM381 586h1v1h-1zM339 587h1v1h-1zM343 587h1v1h-1zM355 587h1v1h-1zM380 587h1v1h-1zM335 588h1v1h-1zM338 588h1v1h-1zM342 588h1v1h-1zM356 588h1v1h-1zM379 588h1v1h-1zM336 589h2v1h-2zM340 589h2v1h-2zM356 589h1v1h-1zM379 589h1v1h-1z"/>
</g>
<g id="text-1">
<text x="72.0" y="571.6" font-size="11.1" text-anchor="middle">1</text>
<path d="M72 564h1v1h-1zM71 565h2v1h-2zM70 566h1v1h-1zM72 566h1v1h-1zM72 567h1v1h-1zM72 568h1v1h-1zM72 569h1v1h-1zM72 570h1v1h-1zM72 571h1v1h-1zM72 572h1v1h-1z"/>
</g>
<g id="text-10">
<text x="292.6" y="571.6" font-size="11.1" text-anchor="middle">10</text>
<path d="M289 564h1v1h-1zM294 564h4v1h-4zM288 565h2v1h-2zM294 565h1v1h-1zM298 565h1v1h-1zM287 566h1v1h-1zM289 566h1v1h-1zM294 566h1v1h-1zM298 566h1v1h-1zM289 567h1v1h-1zM293 567h1v1h-1zM299 567h1v1h-1zM289 568h1v1h-1zM293 568h1v1h-1zM299 568h1v1h-1zM289 569h1v1h-1zM293 569h1v1h-1zM299 569h1v1h-1zM289 570h1v1h-1zM294 570h1v1h-1zM298 570h1v1h-1zM289 571h1v1h-1zM294 571h1v1h-1zM297 571h1v1h-1zM289 572h1v1h-1zM294 572h4v1h-4z"/>
</g>
<g id="text-100">
<text x="513.2" y="571.6" font-size="11.1" text-anchor="middle">100</text>
<path d="M506 564h1v1h-1zM511 564h4v1h-4zM519 564h4v1h-4zM504 565h3v1h-3zM511 565h1v1h-1zM515 565h1v1h-1zM519 565h1v1h-1zM523 565h1v1h-1zM504 566h1v1h-1zM506 566h1v1h-1zM510 566h1v1h-1zM515 566h1v1h-1zM518 566h1v1h-1zM523 566h1v1h-1zM506 567h1v1h-1zM510 567h1v1h-1zM515 567h1v1h-1zM518 567h1v1h-1zM523 567h1v1h-1zM506 568h1v1h-1zM510 568h1v1h-1zM515 568h1v1h-1zM518 568h1v1h-1zM523 568h1v1h-1zM506 569h1v1h-1zM510 569h1v1h-1zM515 569h1v1h-1zM518 569h1v1h-1zM523 569h1v1h-1zM506 570h1v1h-1zM510 570h1v1h-1zM515 570h1v1h-1zM518 570h1v1h-1zM523 570h1v1h-1zM506 571h1v1h-1zM510 571h1v1h-1zM514 571h1v1h-1zM518 571h1v1h-1zM522 571h1v1h-1zM506 572h1v1h-1zM511 572h4v1h-4zM519 572h4v1h-4z"/>
</g>
<g id="text-101">
<text x="68.5" y="27.9" font-size="11.1" text-anchor="end">10<tspan font-size="6.9" baseline-shift="super">1</tspan></text>
<path d="M66 17h1v1h-1zM65 18h2v1h-2zM66 19h1v1h-1zM52 20h1v1h-1zM59 20h2v1h-2zM66 20h1v1h-1zM51 21h2v1h-2zM58 21h1v1h-1zM61 21h1v1h-1zM66 21h1v1h-1zM51 22h2v1h-2zM57 22h1v1h-1zM62 22h1v1h-1zM66 22h1v1h-1zM52 23h1v1h-1zM57 23h1v1h-1zM62 23h1v1h-1zM52 24h1v1h-1zM57 24h1v1h-1zM62 24h1v1h-1zM52 25h1v1h-1zM57 25h1v1h-1zM62 25h1v1h-1zM52 26h1v1h-1zM57 26h1v1h-1zM62 26h1v1h-1zM52 27h1v1h-1zM57 27h1v1h-1zM62 27h1v1h-1zM52 28h1v1h-1zM58 28h4v1h-4z"/>
</g>
<g id="text-100-2">
<text x="68.5" y="158.3" font-size="11.1" text-anchor="end">10<tspan font-size="6.9" baseline-shift="super">0</tspan></text>
<path d="M65 148h3v1h-3zM64 149h1v1h-1zM67 149h1v1h-1zM64 150h1v1h-1zM67 150h1v1h-1zM52 151h1v1h-1zM58 151h4v1h-4zM64 151h1v1h-1zM67 151h1v1h-1zM51 152h2v1h-2zM57 152h1v1h-1zM62 152h1v1h-1zM64 152h1v1h-1zM67 152h1v1h-1zM52 153h1v1h-1zM57 153h1v1h-1zM62 153h1v1h-1zM65 153h3v1h-3zM52 154h1v1h-1zM57 154h1v1h-1zM62 154h1v1h-1zM52 155h1v1h-1zM57 155h1v1h-1zM62 155h1v1h-1zM52 156h1v1h-1zM57 156h1v1h-1zM62 156h1v1h-1zM52 157h1v1h-1zM57 157h1v1h-1zM62 157h1v1h-1zM52 158h1v1h-1zM58 158h1v1h-1zM61 158h1v1h-1zM52 159h1v1h-1zM59 159h2v1h-2z"/>
</g>
<g id="text-10-1">
<text x="68.5" y="292.3" font-size="11.1" text-anchor="end">10<tspan font-size="6.9" baseline-shift="super">-1</tspan></text>
<path d="M66 282h1v1h-1zM65 283h2v1h-2zM66 284h1v1h-1zM46 285h1v1h-1zM52 285h4v1h-4zM58 285h6v1h-6zM66 285h1v1h-1zM44 286h3v1h-3zM51 286h1v1h-1zM56 286h1v1h-1zM66 286h1v1h-1zM46 287h1v1h-1zM51 287h1v1h-1zM56 287h1v1h-1zM66 287h1v1h-1zM46 288h1v1h-1zM51 288h1v1h-1zM56 288h1v1h-1zM46 289h1v1h-1zM51 289h1v1h-1zM56 289h1v1h-1zM46 290h1v1h-1zM51 290h1v1h-1zM56 290h1v1h-1zM46 291h1v1h-1zM51 291h1v1h-1zM56 291h1v1h-1zM46 292h1v1h-1zM52 292h1v1h-1zM55 292h1v1h-1zM46 293h1v1h-1zM53 293h2v1h-2z"/>
</g>
<g id="text-10-2">
<text x="68.5" y="426.0" font-size="11.1" text-anchor="end">10<tspan font-size="6.9" baseline-shift="super">-2</tspan></text>
<path d="M65 416h3v1h-3zM64 417h1v1h-1zM67 417h1v1h-1zM46 418h1v1h-1zM53 418h2v1h-2zM58 418h6v1h-6zM67 418h1v1h-1zM45 419h2v1h-2zM52 419h1v1h-1zM55 419h1v1h-1zM66 419h1v1h-1zM44 420h3v1h-3zM51 420h1v1h-1zM56 420h1v1h-1zM65 420h1v1h-1zM46 421h1v1h-1zM51 421h1v1h-1zM56 421h1v1h-1zM64 421h4v1h-4zM46 422h1v1h-1zM51 422h1v1h-1zM56 422h1v1h-1zM46 423h1v1h-1zM51 423h1v1h-1zM56 423h1v1h-1zM46 424h1v1h-1zM51 424h1v1h-1zM56 424h1v1h-1zM46 425h1v1h-1zM51 425h1v1h-1zM56 425h1v1h-1zM46 426h1v1h-1zM52 426h4v1h-4z"/>
</g>
<g id="text-10-3">
<text x="68.5" y="555.3" font-size="11.1" text-anchor="end">10<tspan font-size="6.9" baseline-shift="super">-3</tspan></text>
<path d="M65 545h3v1h-3zM67 546h1v1h-1zM66 547h2v1h-2zM46 548h1v1h-1zM52 548h4v1h-4zM58 548h6v1h-6zM67 548h1v1h-1zM44 549h3v1h-3zM51 549h1v1h-1zM56 549h1v1h-1zM64 549h1v1h-1zM67 549h1v1h-1zM46 550h1v1h-1zM51 550h1v1h-1zM56 550h1v1h-1zM65 550h3v1h-3zM46 551h1v1h-1zM51 551h1v1h-1zM56 551h1v1h-1zM46 552h1v1h-1zM51 552h1v1h-1zM56 552h1v1h-1zM46 553h1v1h-1zM51 553h1v1h-1zM56 553h1v1h-1zM46 554h1v1h-1zM51 554h1v1h-1zM56 554h1v1h-1zM46 555h1v1h-1zM52 555h1v1h-1zM55 555h1v1h-1zM46 556h1v1h-1zM53 556h2v1h-2z"/>
</g>
<g id="text-counts-cm-2-s-1-kev-1">
<text x="32.1" y="288.2" font-size="11.1" text-anchor="middle" transform="rotate(-90 32.1 288.2)">counts cm<tspan font-size="6.9" baseline-shift="super">-2</tspan> s<tspan font-size="6.9" baseline-shift="super">-1</tspan> keV<tspan font-size="6.9" baseline-shift="super">-1</tspan></text>
<path d="M21 223h6v1h-6zM22 224h1v1h-1zM22 225h1v1h-1zM24 227h1v1h-1zM24 228h1v1h-1zM24 229h1v1h-1zM24 230h1v1h-1zM24 231h1v1h-1zM24 232h2v1h-2zM26 233h3v1h-3zM29 234h2v1h-2zM31 235h2v1h-2zM29 236h2v1h-2zM26 237h3v1h-3zM24 238h2v1h-2zM27 240h3v1h-3zM31 240h1v1h-1zM27 241h1v1h-1zM29 241h1v1h-1zM31 241h1v1h-1zM26 242h1v1h-1zM29 242h1v1h-1zM32 242h1v1h-1zM26 243h2v1h-2zM29 243h1v1h-1zM31 243h2v1h-2zM28 244h2v1h-2zM31 244h1v1h-1zM29 245h2v1h-2zM32 246h1v1h-1zM26 247h1v1h-1zM31 247h1v1h-1zM27 248h1v1h-1zM30 248h1v1h-1zM28 249h2v1h-2zM29 250h1v1h-1zM24 251h9v1h-9zM21 260h6v1h-6zM22 261h1v1h-1zM24 264h1v1h-1zM24 265h1v1h-1zM24 266h1v1h-1zM24 267h1v1h-1zM24 268h1v1h-1zM28 270h1v1h-1zM30 270h2v1h-2zM27 271h1v1h-1zM29 271h1v1h-1zM31 271h1v1h-1zM26 272h1v1h-1zM29 272h1v1h-1zM32 272h1v1h-1zM26 273h1v1h-1zM29 273h1v1h-1zM32 273h1v1h-1zM27 274h2v1h-2zM31 274h1v1h-1zM22 282h1v1h-1zM26 282h1v1h-1zM21 283h1v1h-1zM23 283h2v1h-2zM26 283h1v1h-1zM21 284h1v1h-1zM25 284h2v1h-2zM21 285h2v1h-2zM26 285h1v1h-1zM24 287h1v1h-1zM24 288h1v1h-1zM24 289h1v1h-1zM24 290h1v1h-1zM24 291h1v1h-1zM27 294h6v1h-6zM26 295h1v1h-1zM26 296h1v1h-1zM27 297h1v1h-1zM27 298h6v1h-6zM26 299h1v1h-1zM26 300h1v1h-1zM27 301h1v1h-1zM26 302h7v1h-7zM28 305h1v1h-1zM31 305h1v1h-1zM26 306h2v1h-2zM31 306h2v1h-2zM26 307h1v1h-1zM32 307h1v1h-1zM27 308h1v1h-1zM31 308h1v1h-1zM28 309h4v1h-4zM27 318h5v1h-5zM26 319h1v1h-1zM29 319h1v1h-1zM32 319h1v1h-1zM26 320h1v1h-1zM29 320h1v1h-1zM32 320h1v1h-1zM27 321h3v1h-3zM31 321h1v1h-1zM28 322h1v1h-1zM31 322h1v1h-1zM26 324h1v1h-1zM32 324h1v1h-1zM26 325h1v1h-1zM31 325h2v1h-2zM24 326h7v1h-7zM26 327h1v1h-1zM27 329h6v1h-6zM26 330h1v1h-1zM26 331h1v1h-1zM27 332h1v1h-1zM26 333h7v1h-7zM26 336h7v1h-7zM31 337h1v1h-1zM32 338h1v1h-1zM32 339h1v1h-1zM26 340h6v1h-6zM28 343h4v1h-4zM27 344h1v1h-1zM31 344h1v1h-1zM26 345h1v1h-1zM32 345h1v1h-1zM26 346h1v1h-1zM32 346h1v1h-1zM27 347h1v1h-1zM31 347h1v1h-1zM28 348h4v1h-4zM28 350h1v1h-1zM31 350h1v1h-1zM27 351h1v1h-1zM31 351h1v1h-1zM26 352h1v1h-1zM32 352h1v1h-1zM26 353h1v1h-1zM32 353h1v1h-1zM27 354h2v1h-2zM31 354h1v1h-1zM29 355h2v1h-2z"/>
</g>
<g id="text-26-dec-2009">
<text x="599.1" y="43.7" font-size="10.0" text-anchor="end">26-Dec-2009</text>
<path d="M523 37h3v1h-3zM530 37h4v1h-4zM544 37h5v1h-5zM573 37h4v1h-4zM580 37h4v1h-4zM587 37h4v1h-4zM594 37h3v1h-3zM522 38h1v1h-1zM526 38h1v1h-1zM529 38h1v1h-1zM533 38h1v1h-1zM544 38h1v1h-1zM549 38h1v1h-1zM573 38h1v1h-1zM577 38h1v1h-1zM580 38h1v1h-1zM584 38h1v1h-1zM586 38h1v1h-1zM591 38h1v1h-1zM593 38h1v1h-1zM597 38h1v1h-1zM522 39h1v1h-1zM526 39h1v1h-1zM529 39h1v1h-1zM544 39h1v1h-1zM549 39h1v1h-1zM553 39h2v1h-2zM559 39h2v1h-2zM573 39h1v1h-1zM577 39h1v1h-1zM580 39h1v1h-1zM584 39h1v1h-1zM586 39h1v1h-1zM591 39h1v1h-1zM593 39h1v1h-1zM597 39h1v1h-1zM526 40h1v1h-1zM529 40h4v1h-4zM544 40h1v1h-1zM549 40h1v1h-1zM552 40h1v1h-1zM555 40h1v1h-1zM558 40h1v1h-1zM561 40h2v1h-2zM577 40h1v1h-1zM579 40h1v1h-1zM584 40h1v1h-1zM586 40h1v1h-1zM591 40h1v1h-1zM593 40h1v1h-1zM597 40h1v1h-1zM525 41h1v1h-1zM529 41h1v1h-1zM533 41h1v1h-1zM536 41h7v1h-7zM544 41h1v1h-1zM549 41h1v1h-1zM551 41h5v1h-5zM557 41h1v1h-1zM564 41h7v1h-7zM576 41h1v1h-1zM579 41h1v1h-1zM584 41h1v1h-1zM586 41h1v1h-1zM591 41h1v1h-1zM594 41h4v1h-4zM524 42h1v1h-1zM529 42h1v1h-1zM533 42h1v1h-1zM544 42h1v1h-1zM549 42h1v1h-1zM551 42h1v1h-1zM557 42h1v1h-1zM574 42h2v1h-2zM579 42h1v1h-1zM584 42h1v1h-1zM586 42h1v1h-1zM591 42h1v1h-1zM597 42h1v1h-1zM523 43h1v1h-1zM529 43h1v1h-1zM533 43h1v1h-1zM544 43h1v1h-1zM549 43h1v1h-1zM552 43h1v1h-1zM555 43h1v1h-1zM558 43h1v1h-1zM562 43h1v1h-1zM573 43h1v1h-1zM580 43h1v1h-1zM584 43h1v1h-1zM586 43h1v1h-1zM591 43h1v1h-1zM593 43h1v1h-1zM597 43h1v1h-1zM522 44h5v1h-5zM530 44h3v1h-3zM544 44h5v1h-5zM552 44h4v1h-4zM558 44h4v1h-4zM572 44h6v1h-6zM580 44h4v1h-4zM587 44h4v1h-4zM594 44h3v1h-3z"/>
</g>
<g id="text-16-33-00-to-16-34-00">
<text x="599.1" y="55.2" font-size="10.0" text-anchor="end">16:33:00 to 16:34:00</text>
<path d="M486 48h1v1h-1zM492 48h2v1h-2zM501 48h4v1h-4zM507 48h5v1h-5zM519 48h2v1h-2zM526 48h1v1h-1zM537 48h1v1h-1zM555 48h1v1h-1zM561 48h2v1h-2zM570 48h4v1h-4zM579 48h1v1h-1zM588 48h2v1h-2zM595 48h2v1h-2zM484 49h3v1h-3zM491 49h1v1h-1zM494 49h1v1h-1zM503 49h1v1h-1zM510 49h1v1h-1zM518 49h1v1h-1zM521 49h1v1h-1zM525 49h1v1h-1zM527 49h1v1h-1zM537 49h1v1h-1zM554 49h2v1h-2zM560 49h1v1h-1zM563 49h1v1h-1zM572 49h1v1h-1zM578 49h2v1h-2zM587 49h1v1h-1zM590 49h1v1h-1zM594 49h1v1h-1zM597 49h1v1h-1zM484 50h1v1h-1zM486 50h1v1h-1zM490 50h1v1h-1zM503 50h1v1h-1zM510 50h1v1h-1zM517 50h1v1h-1zM521 50h1v1h-1zM524 50h1v1h-1zM528 50h1v1h-1zM537 50h1v1h-1zM553 50h1v1h-1zM555 50h1v1h-1zM559 50h1v1h-1zM572 50h1v1h-1zM578 50h2v1h-2zM586 50h1v1h-1zM591 50h1v1h-1zM593 50h1v1h-1zM597 50h1v1h-1zM486 51h1v1h-1zM490 51h1v1h-1zM492 51h1v1h-1zM497 51h1v1h-1zM502 51h2v1h-2zM509 51h2v1h-2zM514 51h1v1h-1zM517 51h1v1h-1zM522 51h1v1h-1zM524 51h1v1h-1zM528 51h1v1h-1zM536 51h3v1h-3zM541 51h3v1h-3zM555 51h1v1h-1zM559 51h1v1h-1zM561 51h2v1h-2zM566 51h2v1h-2zM571 51h2v1h-2zM577 51h1v1h-1zM579 51h1v1h-1zM583 51h2v1h-2zM586 51h1v1h-1zM591 51h1v1h-1zM593 51h1v1h-1zM598 51h1v1h-1zM486 52h1v1h-1zM490 52h2v1h-2zM493 52h2v1h-2zM497 52h1v1h-1zM504 52h1v1h-1zM511 52h1v1h-1zM514 52h1v1h-1zM517 52h1v1h-1zM522 52h1v1h-1zM524 52h1v1h-1zM528 52h1v1h-1zM537 52h1v1h-1zM540 52h1v1h-1zM544 52h1v1h-1zM555 52h1v1h-1zM559 52h2v1h-2zM563 52h1v1h-1zM566 52h1v1h-1zM573 52h1v1h-1zM577 52h1v1h-1zM579 52h1v1h-1zM583 52h1v1h-1zM586 52h1v1h-1zM591 52h1v1h-1zM593 52h1v1h-1zM598 52h1v1h-1zM486 53h1v1h-1zM490 53h1v1h-1zM494 53h1v1h-1zM505 53h1v1h-1zM511 53h1v1h-1zM517 53h1v1h-1zM522 53h1v1h-1zM524 53h1v1h-1zM528 53h1v1h-1zM537 53h1v1h-1zM540 53h1v1h-1zM544 53h1v1h-1zM555 53h1v1h-1zM559 53h1v1h-1zM564 53h1v1h-1zM574 53h1v1h-1zM576 53h6v1h-6zM586 53h1v1h-1zM591 53h1v1h-1zM593 53h1v1h-1zM598 53h1v1h-1zM486 54h1v1h-1zM490 54h1v1h-1zM494 54h1v1h-1zM500 54h1v1h-1zM505 54h1v1h-1zM507 54h1v1h-1zM511 54h1v1h-1zM517 54h1v1h-1zM521 54h1v1h-1zM524 54h1v1h-1zM528 54h1v1h-1zM537 54h1v1h-1zM540 54h1v1h-1zM544 54h1v1h-1zM555 54h1v1h-1zM559 54h1v1h-1zM564 54h1v1h-1zM569 54h1v1h-1zM574 54h1v1h-1zM579 54h1v1h-1zM586 54h1v1h-1zM591 54h1v1h-1zM593 54h1v1h-1zM597 54h1v1h-1zM486 55h1v1h-1zM490 55h2v1h-2zM493 55h2v1h-2zM497 55h1v1h-1zM500 55h2v1h-2zM504 55h1v1h-1zM507 55h1v1h-1zM510 55h2v1h-2zM514 55h1v1h-1zM518 55h1v1h-1zM521 55h1v1h-1zM525 55h1v1h-1zM527 55h1v1h-1zM537 55h1v1h-1zM540 55h2v1h-2zM543 55h2v1h-2zM555 55h1v1h-1zM559 55h2v1h-2zM563 55h1v1h-1zM566 55h2v1h-2zM569 55h2v1h-2zM573 55h1v1h-1zM579 55h1v1h-1zM583 55h2v1h-2zM587 55h1v1h-1zM590 55h1v1h-1zM594 55h1v1h-1zM597 55h1v1h-1zM486 56h1v1h-1zM492 56h1v1h-1zM497 56h1v1h-1zM502 56h2v1h-2zM508 56h2v1h-2zM514 56h1v1h-1zM519 56h2v1h-2zM526 56h1v1h-1zM538 56h1v1h-1zM542 56h2v1h-2zM555 56h1v1h-1zM561 56h2v1h-2zM566 56h1v1h-1zM571 56h2v1h-2zM579 56h1v1h-1zM583 56h1v1h-1zM588 56h2v1h-2zM595 56h2v1h-2z"/>
</g>
<g id="text-1f">
<text x="575.7" y="66.9" font-size="10.0" text-anchor="end">1F</text>
<path d="M566 60h1v1h-1zM571 60h5v1h-5zM565 61h2v1h-2zM571 61h1v1h-1zM564 62h1v1h-1zM566 62h1v1h-1zM571 62h1v1h-1zM566 63h1v1h-1zM571 63h1v1h-1zM566 64h1v1h-1zM571 64h3v1h-3zM566 65h1v1h-1zM571 65h1v1h-1zM566 66h1v1h-1zM571 66h1v1h-1zM566 67h1v1h-1zM571 67h1v1h-1z"/>
</g>
<g id="legend-line-1F">
<path d="M583 64h17v1h-17zM583 65h17v1h-17z"/>
</g>
<g id="text-2f">
<text x="575.7" y="78.6" font-size="10.0" text-anchor="end">2F</text>
<path d="M564 72h4v1h-4zM571 72h5v1h-5zM564 73h1v1h-1zM567 73h2v1h-2zM571 73h1v1h-1zM564 74h1v1h-1zM568 74h1v1h-1zM571 74h1v1h-1zM567 75h1v1h-1zM571 75h3v1h-3zM567 76h1v1h-1zM571 76h1v1h-1zM565 77h2v1h-2zM571 77h1v1h-1zM564 78h1v1h-1zM571 78h1v1h-1zM563 79h6v1h-6zM571 79h1v1h-1z"/>
</g>
<g id="legend-line-2F">
<path fill="#ff00ff" d="M583 76h17v1h-17zM583 77h17v1h-17z"/>
</g>
<g id="text-3f">
<text x="575.7" y="90.3" font-size="10.0" text-anchor="end">3F</text>
<path d="M564 83h5v1h-5zM571 83h5v1h-5zM567 84h1v1h-1zM571 84h1v1h-1zM567 85h1v1h-1zM571 85h1v1h-1zM566 86h2v1h-2zM571 86h1v1h-1zM567 87h2v1h-2zM571 87h3v1h-3zM568 88h1v1h-1zM571 88h1v1h-1zM563 89h1v1h-1zM568 89h1v1h-1zM571 89h1v1h-1zM564 90h1v1h-1zM567 90h2v1h-2zM571 90h1v1h-1zM565 91h2v1h-2zM571 91h1v1h-1z"/>
</g>
<g id="legend-line-3F">
<path fill="#00ff00" d="M583 88h17v1h-17zM583 89h17v1h-17z"/>
</g>
<g id="text-4f">
<text x="575.7" y="101.9" font-size="10.0" text-anchor="end">4F</text>
<path d="M567 95h1v1h-1zM571 95h5v1h-5zM566 96h2v1h-2zM571 96h1v1h-1zM565 97h1v1h-1zM567 97h1v1h-1zM571 97h1v1h-1zM565 98h1v1h-1zM567 98h1v1h-1zM571 98h1v1h-1zM564 99h1v1h-1zM567 99h1v1h-1zM571 99h3v1h-3zM563 100h6v1h-6zM571 100h1v1h-1zM567 101h1v1h-1zM571 101h1v1h-1zM567 102h1v1h-1zM571 102h1v1h-1z"/>
</g>
<g id="legend-line-4F">
<path fill="#00ffff" d="M583 99h17v1h-17zM583 100h17v1h-17z"/>
</g>
<g id="text-5f">
<text x="575.7" y="113.6" font-size="10.0" text-anchor="end">5F</text>
<path d="M564 107h4v1h-4zM571 107h5v1h-5zM564 108h1v1h-1zM571 108h1v1h-1zM564 109h3v1h-3zM571 109h1v1h-1zM564 110h1v1h-1zM567 110h2v1h-2zM571 110h3v1h-3zM568 111h1v1h-1zM571 111h1v1h-1zM568 112h1v1h-1zM571 112h1v1h-1zM563 113h2v1h-2zM568 113h1v1h-1zM571 113h1v1h-1zM564 114h4v1h-4zM571 114h1v1h-1z"/>
</g>
<g id="legend-line-5F">
<path fill="#d6d600" d="M583 111h17v1h-17zM583 112h17v1h-17z"/>
</g>
<g id="text-6f">
<text x="575.7" y="125.3" font-size="10.0" text-anchor="end">6F</text>
<path d="M565 119h3v1h-3zM571 119h5v1h-5zM564 120h1v1h-1zM568 120h1v1h-1zM571 120h1v1h-1zM564 121h1v1h-1zM566 121h1v1h-1zM571 121h1v1h-1zM564 122h2v1h-2zM567 122h2v1h-2zM571 122h3v1h-3zM564 123h1v1h-1zM568 123h1v1h-1zM571 123h1v1h-1zM564 124h1v1h-1zM568 124h1v1h-1zM571 124h1v1h-1zM564 125h2v1h-2zM567 125h2v1h-2zM571 125h1v1h-1zM566 126h1v1h-1zM571 126h1v1h-1z"/>
</g>
<g id="legend-line-6F">
<path fill="#ff0000" d="M583 123h17v1h-17zM583 124h17v1h-17z"/>
</g>
<g id="text-7f">
<text x="575.7" y="137.0" font-size="10.0" text-anchor="end">7F</text>
<path d="M563 130h6v1h-6zM571 130h5v1h-5zM568 131h1v1h-1zM571 131h1v1h-1zM567 132h1v1h-1zM571 132h1v1h-1zM567 133h1v1h-1zM571 133h1v1h-1zM566 134h1v1h-1zM571 134h3v1h-3zM566 135h1v1h-1zM571 135h1v1h-1zM565 136h1v1h-1zM571 136h1v1h-1zM565 137h1v1h-1zM571 137h1v1h-1z"/>
</g>
<g id="legend-line-7F">
<path fill="#0000ff" d="M583 134h17v1h-17zM583 135h17v1h-17z"/>
</g>
<g id="text-8f">
<text x="575.7" y="148.7" font-size="10.0" text-anchor="end">8F</text>
<path d="M564 142h4v1h-4zM571 142h5v1h-5zM564 143h1v1h-1zM568 143h1v1h-1zM571 143h1v1h-1zM564 144h1v1h-1zM567 144h2v1h-2zM571 144h1v1h-1zM564 145h4v1h-4zM571 145h3v1h-3zM564 146h1v1h-1zM568 146h1v1h-1zM571 146h1v1h-1zM563 147h1v1h-1zM568 147h1v1h-1zM571 147h1v1h-1zM563 148h2v1h-2zM568 148h1v1h-1zM571 148h1v1h-1zM564 149h4v1h-4zM571 149h1v1h-1z"/>
</g>
<g id="legend-line-8F">
<path fill="#ff7f00" d="M583 146h17v1h-17zM583 147h17v1h-17z"/>
</g>
<g id="text-9f">
<text x="575.7" y="160.3" font-size="10.0" text-anchor="end">9F</text>
<path d="M564 154h4v1h-4zM571 154h5v1h-5zM564 155h1v1h-1zM567 155h1v1h-1zM571 155h1v1h-1zM563 156h1v1h-1zM568 156h1v1h-1zM571 156h1v1h-1zM564 157h1v1h-1zM567 157h2v1h-2zM571 157h3v1h-3zM564 158h5v1h-5zM571 158h1v1h-1zM567 159h1v1h-1zM571 159h1v1h-1zM564 160h1v1h-1zM567 160h1v1h-1zM571 160h1v1h-1zM565 161h2v1h-2zM571 161h1v1h-1z"/>
</g>
<g id="legend-line-9F">
<path fill="#7f7f00" d="M583 158h17v1h-17zM583 159h17v1h-17z"/>
</g>
<g id="text-includes-background">
<text x="186.4" y="514.2" font-size="11.1" text-anchor="start">Includes Background</text>
<path d="M188 507h1v1h-1zM205 507h1v1h-1zM219 507h1v1h-1zM241 507h6v1h-6zM263 507h1v1h-1zM308 507h1v1h-1zM188 508h1v1h-1zM205 508h1v1h-1zM219 508h1v1h-1zM241 508h1v1h-1zM247 508h1v1h-1zM263 508h1v1h-1zM308 508h1v1h-1zM188 509h1v1h-1zM191 509h4v1h-4zM199 509h2v1h-2zM205 509h1v1h-1zM208 509h1v1h-1zM212 509h1v1h-1zM216 509h2v1h-2zM219 509h1v1h-1zM224 509h2v1h-2zM230 509h2v1h-2zM241 509h1v1h-1zM247 509h1v1h-1zM251 509h3v1h-3zM258 509h2v1h-2zM263 509h1v1h-1zM267 509h1v1h-1zM271 509h2v1h-2zM274 509h1v1h-1zM277 509h1v1h-1zM279 509h2v1h-2zM283 509h2v1h-2zM289 509h1v1h-1zM293 509h1v1h-1zM296 509h1v1h-1zM298 509h2v1h-2zM305 509h2v1h-2zM308 509h1v1h-1zM188 510h1v1h-1zM191 510h2v1h-2zM194 510h1v1h-1zM198 510h2v1h-2zM201 510h2v1h-2zM205 510h1v1h-1zM208 510h1v1h-1zM212 510h1v1h-1zM215 510h2v1h-2zM218 510h2v1h-2zM222 510h2v1h-2zM225 510h2v1h-2zM228 510h2v1h-2zM232 510h2v1h-2zM241 510h6v1h-6zM249 510h2v1h-2zM253 510h1v1h-1zM256 510h2v1h-2zM260 510h2v1h-2zM263 510h1v1h-1zM266 510h1v1h-1zM270 510h1v1h-1zM273 510h2v1h-2zM277 510h2v1h-2zM282 510h2v1h-2zM285 510h2v1h-2zM289 510h1v1h-1zM293 510h1v1h-1zM296 510h2v1h-2zM300 510h1v1h-1zM303 510h2v1h-2zM307 510h2v1h-2zM188 511h1v1h-1zM191 511h1v1h-1zM195 511h1v1h-1zM198 511h1v1h-1zM205 511h1v1h-1zM208 511h1v1h-1zM212 511h1v1h-1zM215 511h1v1h-1zM219 511h1v1h-1zM222 511h1v1h-1zM226 511h1v1h-1zM229 511h1v1h-1zM241 511h1v1h-1zM246 511h1v1h-1zM249 511h1v1h-1zM253 511h1v1h-1zM256 511h1v1h-1zM263 511h1v1h-1zM265 511h1v1h-1zM270 511h1v1h-1zM274 511h1v1h-1zM277 511h1v1h-1zM282 511h1v1h-1zM286 511h1v1h-1zM289 511h1v1h-1zM293 511h1v1h-1zM296 511h1v1h-1zM300 511h1v1h-1zM303 511h1v1h-1zM308 511h1v1h-1zM188 512h1v1h-1zM191 512h1v1h-1zM195 512h1v1h-1zM197 512h1v1h-1zM205 512h1v1h-1zM208 512h1v1h-1zM212 512h1v1h-1zM214 512h1v1h-1zM219 512h1v1h-1zM222 512h5v1h-5zM230 512h3v1h-3zM241 512h1v1h-1zM247 512h1v1h-1zM249 512h1v1h-1zM253 512h1v1h-1zM256 512h1v1h-1zM263 512h3v1h-3zM269 512h1v1h-1zM274 512h1v1h-1zM277 512h1v1h-1zM281 512h1v1h-1zM286 512h1v1h-1zM289 512h1v1h-1zM293 512h1v1h-1zM296 512h1v1h-1zM300 512h1v1h-1zM303 512h1v1h-1zM308 512h1v1h-1zM188 513h1v1h-1zM191 513h1v1h-1zM195 513h1v1h-1zM198 513h1v1h-1zM202 513h1v1h-1zM205 513h1v1h-1zM208 513h1v1h-1zM212 513h1v1h-1zM215 513h1v1h-1zM219 513h1v1h-1zM222 513h1v1h-1zM226 513h1v1h-1zM228 513h1v1h-1zM233 513h1v1h-1zM241 513h1v1h-1zM247 513h1v1h-1zM249 513h1v1h-1zM253 513h1v1h-1zM256 513h1v1h-1zM261 513h1v1h-1zM263 513h1v1h-1zM266 513h1v1h-1zM270 513h1v1h-1zM274 513h1v1h-1zM277 513h1v1h-1zM282 513h1v1h-1zM286 513h1v1h-1zM289 513h1v1h-1zM293 513h1v1h-1zM296 513h1v1h-1zM300 513h1v1h-1zM303 513h1v1h-1zM308 513h1v1h-1zM188 514h1v1h-1zM191 514h1v1h-1zM195 514h1v1h-1zM199 514h1v1h-1zM201 514h1v1h-1zM205 514h1v1h-1zM208 514h1v1h-1zM211 514h2v1h-2zM216 514h1v1h-1zM218 514h2v1h-2zM223 514h1v1h-1zM225 514h1v1h-1zM229 514h1v1h-1zM232 514h1v1h-1zM241 514h1v1h-1zM246 514h1v1h-1zM250 514h1v1h-1zM253 514h1v1h-1zM257 514h1v1h-1zM260 514h1v1h-1zM263 514h1v1h-1zM266 514h1v1h-1zM270 514h1v1h-1zM273 514h2v1h-2zM277 514h1v1h-1zM283 514h1v1h-1zM285 514h1v1h-1zM289 514h1v1h-1zM292 514h2v1h-2zM296 514h1v1h-1zM300 514h1v1h-1zM304 514h1v1h-1zM307 514h2v1h-2zM188 515h1v1h-1zM191 515h1v1h-1zM195 515h1v1h-1zM199 515h2v1h-2zM205 515h1v1h-1zM209 515h2v1h-2zM212 515h1v1h-1zM216 515h2v1h-2zM219 515h1v1h-1zM224 515h2v1h-2zM230 515h2v1h-2zM241 515h5v1h-5zM251 515h3v1h-3zM258 515h2v1h-2zM263 515h1v1h-1zM267 515h1v1h-1zM271 515h2v1h-2zM274 515h1v1h-1zM277 515h1v1h-1zM283 515h2v1h-2zM290 515h2v1h-2zM293 515h1v1h-1zM296 515h1v1h-1zM300 515h1v1h-1zM305 515h2v1h-2zM308 515h1v1h-1zM274 516h1v1h-1zM270 517h4v1h-4z"/>
</g>
<g id="text-att-a0--fdecim-1">
<text x="186.4" y="524.9" font-size="11.1" text-anchor="start">Att A0, FDecim 1</text>
<path d="M189 517h1v1h-1zM195 517h1v1h-1zM199 517h1v1h-1zM211 517h1v1h-1zM218 517h2v1h-2zM234 517h6v1h-6zM241 517h3v1h-3zM262 517h2v1h-2zM285 517h1v1h-1zM189 518h1v1h-1zM195 518h1v1h-1zM199 518h1v1h-1zM211 518h1v1h-1zM217 518h1v1h-1zM220 518h1v1h-1zM234 518h1v1h-1zM241 518h1v1h-1zM244 518h2v1h-2zM262 518h1v1h-1zM284 518h2v1h-2zM188 519h1v1h-1zM190 519h1v1h-1zM195 519h1v1h-1zM199 519h1v1h-1zM210 519h1v1h-1zM212 519h1v1h-1zM216 519h1v1h-1zM221 519h1v1h-1zM234 519h1v1h-1zM241 519h1v1h-1zM245 519h1v1h-1zM283 519h1v1h-1zM285 519h1v1h-1zM188 520h1v1h-1zM190 520h1v1h-1zM194 520h3v1h-3zM198 520h4v1h-4zM210 520h1v1h-1zM212 520h1v1h-1zM216 520h1v1h-1zM221 520h1v1h-1zM234 520h1v1h-1zM241 520h1v1h-1zM246 520h1v1h-1zM249 520h4v1h-4zM256 520h4v1h-4zM262 520h1v1h-1zM265 520h9v1h-9zM285 520h1v1h-1zM188 521h1v1h-1zM190 521h1v1h-1zM195 521h1v1h-1zM199 521h1v1h-1zM210 521h1v1h-1zM212 521h1v1h-1zM216 521h1v1h-1zM221 521h1v1h-1zM234 521h4v1h-4zM241 521h1v1h-1zM246 521h1v1h-1zM249 521h1v1h-1zM252 521h1v1h-1zM255 521h1v1h-1zM259 521h1v1h-1zM262 521h1v1h-1zM265 521h1v1h-1zM269 521h1v1h-1zM273 521h1v1h-1zM285 521h1v1h-1zM187 522h1v1h-1zM191 522h1v1h-1zM195 522h1v1h-1zM199 522h1v1h-1zM209 522h1v1h-1zM213 522h1v1h-1zM216 522h1v1h-1zM221 522h1v1h-1zM234 522h1v1h-1zM241 522h1v1h-1zM246 522h1v1h-1zM248 522h6v1h-6zM255 522h1v1h-1zM262 522h1v1h-1zM265 522h1v1h-1zM269 522h1v1h-1zM274 522h1v1h-1zM285 522h1v1h-1zM187 523h5v1h-5zM195 523h1v1h-1zM199 523h1v1h-1zM209 523h5v1h-5zM216 523h1v1h-1zM221 523h1v1h-1zM234 523h1v1h-1zM241 523h1v1h-1zM245 523h1v1h-1zM248 523h1v1h-1zM255 523h1v1h-1zM262 523h1v1h-1zM265 523h1v1h-1zM269 523h1v1h-1zM274 523h1v1h-1zM285 523h1v1h-1zM186 524h1v1h-1zM192 524h1v1h-1zM195 524h1v1h-1zM199 524h1v1h-1zM208 524h1v1h-1zM214 524h1v1h-1zM216 524h1v1h-1zM221 524h1v1h-1zM234 524h1v1h-1zM241 524h1v1h-1zM245 524h1v1h-1zM249 524h1v1h-1zM253 524h1v1h-1zM255 524h1v1h-1zM259 524h1v1h-1zM262 524h1v1h-1zM265 524h1v1h-1zM269 524h1v1h-1zM274 524h1v1h-1zM285 524h1v1h-1zM186 525h1v1h-1zM192 525h1v1h-1zM195 525h3v1h-3zM200 525h2v1h-2zM208 525h1v1h-1zM214 525h1v1h-1zM217 525h4v1h-4zM224 525h2v1h-2zM234 525h1v1h-1zM241 525h4v1h-4zM249 525h4v1h-4zM256 525h4v1h-4zM262 525h1v1h-1zM265 525h1v1h-1zM269 525h1v1h-1zM274 525h1v1h-1zM285 525h1v1h-1zM224 526h2v1h-2zM224 527h1v1h-1z"/>
</g>
<g id="text-generated-by-hsi-min-spectra">
<text x="0.1" y="592.8" font-size="10.0" text-anchor="start">Generated by hsi_min_spectra_plot.pro</text>
<path d="M2 586h4v1h-4zM38 586h1v1h-1zM52 586h1v1h-1zM60 586h1v1h-1zM77 586h1v1h-1zM89 586h2v1h-2zM108 586h2v1h-2zM149 586h1v1h-1zM176 586h1v1h-1zM186 586h1v1h-1zM1 587h1v1h-1zM6 587h1v1h-1zM38 587h1v1h-1zM52 587h1v1h-1zM60 587h1v1h-1zM77 587h1v1h-1zM149 587h1v1h-1zM176 587h1v1h-1zM186 587h1v1h-1zM1 588h1v1h-1zM6 588h1v1h-1zM10 588h2v1h-2zM14 588h1v1h-1zM16 588h2v1h-2zM22 588h2v1h-2zM27 588h1v1h-1zM29 588h2v1h-2zM33 588h3v1h-3zM37 588h4v1h-4zM43 588h2v1h-2zM49 588h4v1h-4zM60 588h3v1h-3zM66 588h1v1h-1zM70 588h1v1h-1zM77 588h1v1h-1zM79 588h2v1h-2zM85 588h2v1h-2zM90 588h1v1h-1zM99 588h3v1h-3zM104 588h2v1h-2zM109 588h1v1h-1zM112 588h3v1h-3zM125 588h2v1h-2zM130 588h3v1h-3zM138 588h2v1h-2zM144 588h2v1h-2zM148 588h3v1h-3zM153 588h1v1h-1zM155 588h2v1h-2zM159 588h3v1h-3zM170 588h3v1h-3zM176 588h1v1h-1zM180 588h2v1h-2zM185 588h3v1h-3zM193 588h3v1h-3zM200 588h3v1h-3zM205 588h2v1h-2zM1 589h1v1h-1zM8 589h2v1h-2zM11 589h2v1h-2zM14 589h2v1h-2zM18 589h1v1h-1zM21 589h2v1h-2zM24 589h1v1h-1zM27 589h2v1h-2zM31 589h2v1h-2zM34 589h2v1h-2zM38 589h1v1h-1zM42 589h2v1h-2zM45 589h1v1h-1zM48 589h2v1h-2zM51 589h2v1h-2zM60 589h2v1h-2zM63 589h2v1h-2zM66 589h1v1h-1zM70 589h1v1h-1zM77 589h2v1h-2zM81 589h1v1h-1zM84 589h1v1h-1zM87 589h1v1h-1zM90 589h1v1h-1zM99 589h2v1h-2zM102 589h2v1h-2zM106 589h1v1h-1zM109 589h1v1h-1zM112 589h2v1h-2zM115 589h1v1h-1zM124 589h1v1h-1zM127 589h2v1h-2zM130 589h2v1h-2zM133 589h2v1h-2zM136 589h2v1h-2zM140 589h1v1h-1zM143 589h1v1h-1zM146 589h1v1h-1zM149 589h1v1h-1zM153 589h2v1h-2zM157 589h2v1h-2zM160 589h2v1h-2zM170 589h2v1h-2zM173 589h2v1h-2zM176 589h1v1h-1zM179 589h2v1h-2zM182 589h2v1h-2zM186 589h1v1h-1zM193 589h2v1h-2zM196 589h2v1h-2zM200 589h2v1h-2zM204 589h2v1h-2zM207 589h2v1h-2zM1 590h1v1h-1zM4 590h3v1h-3zM8 590h5v1h-5zM14 590h1v1h-1zM18 590h1v1h-1zM21 590h5v1h-5zM27 590h1v1h-1zM31 590h1v1h-1zM35 590h1v1h-1zM38 590h1v1h-1zM42 590h5v1h-5zM48 590h1v1h-1zM52 590h1v1h-1zM60 590h1v1h-1zM64 590h1v1h-1zM67 590h1v1h-1zM69 590h1v1h-1zM77 590h1v1h-1zM81 590h1v1h-1zM84 590h2v1h-2zM90 590h1v1h-1zM99 590h1v1h-1zM102 590h1v1h-1zM106 590h1v1h-1zM109 590h1v1h-1zM112 590h1v1h-1zM115 590h1v1h-1zM124 590h3v1h-3zM130 590h1v1h-1zM134 590h1v1h-1zM136 590h5v1h-5zM142 590h1v1h-1zM149 590h1v1h-1zM153 590h1v1h-1zM157 590h1v1h-1zM161 590h1v1h-1zM170 590h1v1h-1zM174 590h1v1h-1zM176 590h1v1h-1zM179 590h1v1h-1zM183 590h1v1h-1zM186 590h1v1h-1zM193 590h1v1h-1zM197 590h1v1h-1zM200 590h1v1h-1zM204 590h1v1h-1zM208 590h1v1h-1zM1 591h1v1h-1zM6 591h1v1h-1zM8 591h1v1h-1zM14 591h1v1h-1zM18 591h1v1h-1zM21 591h1v1h-1zM27 591h1v1h-1zM31 591h1v1h-1zM35 591h1v1h-1zM38 591h1v1h-1zM42 591h1v1h-1zM48 591h1v1h-1zM52 591h1v1h-1zM60 591h1v1h-1zM64 591h1v1h-1zM67 591h1v1h-1zM69 591h1v1h-1zM77 591h1v1h-1zM81 591h1v1h-1zM86 591h2v1h-2zM90 591h1v1h-1zM99 591h1v1h-1zM102 591h1v1h-1zM106 591h1v1h-1zM109 591h1v1h-1zM112 591h1v1h-1zM115 591h1v1h-1zM127 591h1v1h-1zM130 591h1v1h-1zM134 591h1v1h-1zM136 591h1v1h-1zM142 591h1v1h-1zM149 591h1v1h-1zM153 591h1v1h-1zM157 591h1v1h-1zM161 591h1v1h-1zM170 591h1v1h-1zM174 591h1v1h-1zM176 591h1v1h-1zM179 591h1v1h-1zM183 591h1v1h-1zM186 591h1v1h-1zM193 591h1v1h-1zM197 591h1v1h-1zM200 591h1v1h-1zM204 591h1v1h-1zM208 591h1v1h-1zM1 592h1v1h-1zM6 592h1v1h-1zM8 592h1v1h-1zM12 592h1v1h-1zM14 592h1v1h-1zM18 592h1v1h-1zM21 592h1v1h-1zM25 592h1v1h-1zM27 592h1v1h-1zM31 592h1v1h-1zM35 592h1v1h-1zM38 592h1v1h-1zM42 592h1v1h-1zM46 592h1v1h-1zM48 592h1v1h-1zM52 592h1v1h-1zM60 592h1v1h-1zM64 592h1v1h-1zM68 592h1v1h-1zM77 592h1v1h-1zM81 592h1v1h-1zM84 592h1v1h-1zM87 592h1v1h-1zM90 592h1v1h-1zM99 592h1v1h-1zM102 592h1v1h-1zM106 592h1v1h-1zM109 592h1v1h-1zM112 592h1v1h-1zM115 592h1v1h-1zM124 592h1v1h-1zM128 592h1v1h-1zM130 592h1v1h-1zM134 592h1v1h-1zM136 592h1v1h-1zM140 592h1v1h-1zM143 592h1v1h-1zM146 592h1v1h-1zM149 592h1v1h-1zM153 592h1v1h-1zM157 592h1v1h-1zM161 592h1v1h-1zM170 592h1v1h-1zM174 592h1v1h-1zM176 592h1v1h-1zM179 592h1v1h-1zM183 592h1v1h-1zM186 592h1v1h-1zM193 592h1v1h-1zM197 592h1v1h-1zM200 592h1v1h-1zM204 592h1v1h-1zM208 592h1v1h-1zM2 593h4v1h-4zM9 593h3v1h-3zM14 593h1v1h-1zM18 593h1v1h-1zM22 593h3v1h-3zM27 593h1v1h-1zM32 593h4v1h-4zM39 593h2v1h-2zM43 593h3v1h-3zM49 593h4v1h-4zM60 593h4v1h-4zM68 593h1v1h-1zM77 593h1v1h-1zM81 593h1v1h-1zM84 593h4v1h-4zM90 593h10v1h-10zM102 593h1v1h-1zM106 593h1v1h-1zM109 593h1v1h-1zM112 593h1v1h-1zM115 593h1v1h-1zM117 593h11v1h-11zM130 593h4v1h-4zM137 593h4v1h-4zM143 593h4v1h-4zM149 593h3v1h-3zM153 593h1v1h-1zM158 593h16v1h-16zM176 593h1v1h-1zM180 593h3v1h-3zM186 593h3v1h-3zM190 593h1v1h-1zM193 593h4v1h-4zM200 593h1v1h-1zM205 593h3v1h-3zM68 594h1v1h-1zM130 594h1v1h-1zM170 594h1v1h-1zM193 594h1v1h-1zM67 595h1v1h-1zM130 595h1v1h-1zM170 595h1v1h-1zM193 595h1v1h-1zM66 596h1v1h-1zM130 596h1v1h-1zM170 596h1v1h-1zM193 596h1v1h-1z"/>
</g>
<g id="text-14-apr-2023-09-51">
<text x="634.6" y="592.8" font-size="10.0" text-anchor="end">14-Apr-2023 09:51</text>
<path d="M526 586h1v1h-1zM534 586h1v1h-1zM548 586h1v1h-1zM573 586h4v1h-4zM580 586h3v1h-3zM586 586h4v1h-4zM593 586h5v1h-5zM606 586h3v1h-3zM612 586h4v1h-4zM622 586h5v1h-5zM631 586h1v1h-1zM524 587h3v1h-3zM533 587h2v1h-2zM548 587h1v1h-1zM572 587h1v1h-1zM576 587h1v1h-1zM579 587h1v1h-1zM583 587h1v1h-1zM586 587h1v1h-1zM590 587h1v1h-1zM596 587h1v1h-1zM605 587h1v1h-1zM609 587h1v1h-1zM612 587h1v1h-1zM615 587h1v1h-1zM622 587h1v1h-1zM629 587h3v1h-3zM526 588h1v1h-1zM532 588h1v1h-1zM534 588h1v1h-1zM547 588h1v1h-1zM549 588h1v1h-1zM552 588h1v1h-1zM554 588h2v1h-2zM559 588h1v1h-1zM561 588h2v1h-2zM572 588h1v1h-1zM576 588h1v1h-1zM579 588h1v1h-1zM583 588h1v1h-1zM586 588h1v1h-1zM590 588h1v1h-1zM596 588h1v1h-1zM605 588h1v1h-1zM609 588h1v1h-1zM611 588h1v1h-1zM616 588h1v1h-1zM619 588h1v1h-1zM622 588h3v1h-3zM631 588h1v1h-1zM526 589h1v1h-1zM532 589h1v1h-1zM534 589h1v1h-1zM547 589h1v1h-1zM549 589h1v1h-1zM552 589h2v1h-2zM555 589h2v1h-2zM559 589h2v1h-2zM576 589h1v1h-1zM579 589h1v1h-1zM583 589h1v1h-1zM590 589h1v1h-1zM595 589h3v1h-3zM605 589h1v1h-1zM609 589h1v1h-1zM612 589h1v1h-1zM615 589h2v1h-2zM619 589h1v1h-1zM622 589h1v1h-1zM625 589h2v1h-2zM631 589h1v1h-1zM526 590h1v1h-1zM531 590h1v1h-1zM534 590h1v1h-1zM537 590h8v1h-8zM546 590h1v1h-1zM550 590h1v1h-1zM552 590h1v1h-1zM556 590h1v1h-1zM559 590h1v1h-1zM563 590h7v1h-7zM575 590h1v1h-1zM579 590h1v1h-1zM583 590h1v1h-1zM589 590h1v1h-1zM597 590h1v1h-1zM605 590h1v1h-1zM609 590h1v1h-1zM612 590h5v1h-5zM626 590h1v1h-1zM631 590h1v1h-1zM526 591h1v1h-1zM530 591h6v1h-6zM546 591h5v1h-5zM552 591h1v1h-1zM556 591h1v1h-1zM559 591h1v1h-1zM574 591h1v1h-1zM579 591h1v1h-1zM583 591h1v1h-1zM587 591h2v1h-2zM597 591h1v1h-1zM605 591h1v1h-1zM609 591h1v1h-1zM616 591h1v1h-1zM626 591h1v1h-1zM631 591h1v1h-1zM526 592h1v1h-1zM534 592h1v1h-1zM545 592h1v1h-1zM551 592h2v1h-2zM556 592h1v1h-1zM559 592h1v1h-1zM573 592h1v1h-1zM579 592h1v1h-1zM583 592h1v1h-1zM586 592h1v1h-1zM592 592h1v1h-1zM597 592h1v1h-1zM605 592h1v1h-1zM609 592h1v1h-1zM612 592h1v1h-1zM615 592h1v1h-1zM622 592h1v1h-1zM626 592h1v1h-1zM631 592h1v1h-1zM526 593h1v1h-1zM534 593h1v1h-1zM545 593h1v1h-1zM551 593h5v1h-5zM559 593h1v1h-1zM572 593h6v1h-6zM580 593h3v1h-3zM585 593h6v1h-6zM593 593h4v1h-4zM606 593h3v1h-3zM612 593h4v1h-4zM619 593h1v1h-1zM622 593h4v1h-4zM631 593h1v1h-1zM552 594h1v1h-1zM552 595h1v1h-1zM552 596h1v1h-1z"/>
</g>
</svg>
</body>
</html>
